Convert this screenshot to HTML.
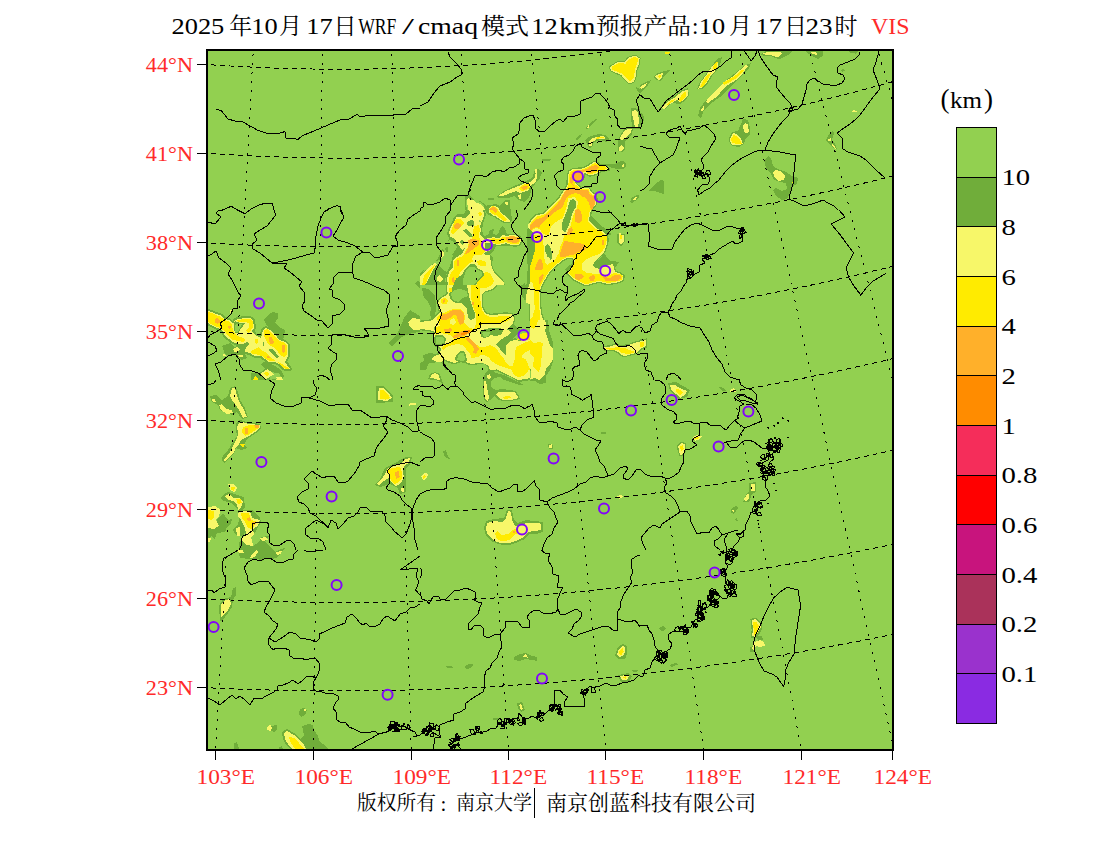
<!DOCTYPE html>
<html><head><meta charset="utf-8"><title>VIS</title>
<style>
html,body{margin:0;padding:0;background:#fff;overflow:hidden}
svg{display:block}
text{font-family:"Liberation Serif",serif}
text.cjk{font-family:"Liberation Serif","Noto Serif CJK SC",serif}
</style></head><body>
<svg width="1100" height="850" viewBox="0 0 1100 850">
<defs><clipPath id="mc"><rect x="207" y="50" width="686" height="700"/></clipPath></defs>
<rect x="0" y="0" width="1100" height="850" fill="#fff"/>
<rect x="207" y="50" width="686" height="700" fill="#92d050"/>
<g clip-path="url(#mc)">
<g shape-rendering="crispEdges">
<path fill="#70ad3a" stroke="#70ad3a" stroke-width="2.4" stroke-linejoin="round" d="M567.5 183.0L568.0 176.0L569.0 171.5L573.0 169.0L582.0 168.5L587.0 166.5L594.0 162.0L597.5 162.8L600.0 165.0L604.5 164.8L609.0 169.5L600.0 171.5L596.0 174.0L590.0 175.5L586.5 174.0L586.0 172.5L584.0 173.0L583.5 177.0L582.0 180.0L579.0 182.0L575.0 182.0L576.0 184.0L579.0 186.5L581.0 188.0L586.0 187.5L589.0 188.5L591.0 192.0L594.0 194.0L596.0 195.0L596.5 200.0L596.0 204.0L593.0 208.0L591.0 210.0L590.0 215.0L589.0 220.0L592.0 224.0L598.0 229.0L604.0 232.0L606.0 235.0L530.0 235.0L530.0 223.0L532.0 219.0L536.0 215.0L543.0 214.0L548.0 210.0L551.0 206.0L556.0 202.0L560.0 197.0L563.0 192.0L566.0 188.0L567.5 185.0Z"/>
<path fill="#70ad3a" stroke="#70ad3a" stroke-width="2.6" stroke-linejoin="round" d="M530.0 235.0L607.0 235.0L607.5 241.0L606.0 247.0L604.0 252.0L600.0 256.0L596.0 260.0L593.0 265.0L595.0 268.0L600.0 269.0L602.0 266.0L609.0 265.0L613.0 264.0L614.0 268.0L615.0 272.0L620.0 273.5L623.5 276.0L623.0 280.0L619.0 282.0L614.0 283.0L608.0 284.0L603.0 283.0L599.0 281.5L594.0 283.0L589.0 284.5L584.0 284.5L579.0 282.0L573.0 279.0L569.0 275.0L567.0 273.0L571.0 268.0L573.0 264.0L574.0 260.0L572.0 258.0L568.0 257.5L563.0 260.0L558.0 264.0L553.0 268.0L549.0 273.0L546.0 278.0L543.0 283.0L541.0 287.0L540.0 291.0L539.5 297.0L540.0 305.0L541.0 313.0L543.0 320.0L530.0 320.0Z"/>
<path fill="#70ad3a" stroke="#70ad3a" stroke-width="2.4" stroke-linejoin="round" d="M618.5 235.0L624.0 235.0L624.0 241.0L621.0 244.5L618.5 242.0Z"/>
<path fill="#70ad3a" stroke="#70ad3a" stroke-width="2.6" stroke-linejoin="round" d="M420.0 322.0L428.0 321.0L433.0 320.0L437.0 315.0L440.0 312.0L439.0 307.0L438.0 303.0L440.0 299.0L445.0 296.0L448.0 294.0L447.0 289.0L447.0 285.0L496.0 285.0L494.0 288.0L490.0 290.0L485.0 291.0L482.0 294.0L481.5 300.0L482.0 307.0L485.0 313.0L490.0 315.0L498.0 314.5L505.0 313.5L510.0 314.0L513.0 315.0L514.0 319.0L513.0 323.0L510.0 327.0L507.0 329.5L511.0 332.0L509.0 335.0L505.0 337.0L502.0 339.0L498.0 342.0L496.0 345.0L500.0 349.0L504.0 354.0L506.0 355.0L505.0 346.0L510.0 342.0L515.0 339.5L520.0 341.0L530.0 337.0L530.0 370.0L490.0 370.0L488.0 365.0L484.0 362.0L478.0 363.0L472.0 364.0L467.0 363.0L464.0 359.0L460.0 361.0L454.0 363.0L448.0 361.0L444.0 359.0L440.0 360.0L435.0 360.0L431.0 359.0L434.0 356.0L440.0 354.0L441.0 349.0L438.0 346.0L435.0 345.0L434.0 337.0L435.0 332.0L430.0 330.0L420.0 329.0Z"/>
<path fill="#70ad3a" stroke="#70ad3a" stroke-width="2.4" stroke-linejoin="round" d="M604.0 347.0L610.0 346.5L615.0 345.0L620.0 346.0L628.0 345.5L634.0 343.0L640.0 341.5L640.0 350.0L636.0 353.0L630.0 354.5L625.0 356.0L621.0 355.0L618.0 352.0L614.0 350.0L609.0 350.0L605.0 350.0Z"/>
<path fill="#70ad3a" stroke="#70ad3a" stroke-width="4" stroke-linejoin="round" d="M208.0 311.0L212.0 312.0L216.0 314.0L220.0 315.0L225.0 319.0L229.0 320.0L233.0 324.0L235.0 320.0L238.0 319.0L245.0 318.0L250.0 318.0L253.0 320.0L254.0 328.0L252.0 331.0L255.0 335.0L261.0 338.0L263.0 330.0L266.0 328.0L270.0 330.0L275.0 334.0L279.0 340.0L285.0 342.0L288.0 345.0L288.0 356.0L285.0 362.0L290.0 369.0L285.0 369.0L279.0 364.0L275.0 362.0L269.0 362.0L265.0 359.0L261.0 356.0L255.0 356.0L250.0 353.0L245.0 352.0L246.0 347.0L249.0 344.0L247.0 342.0L243.0 344.0L238.0 344.0L233.0 342.0L229.0 339.0L225.0 336.0L223.0 332.0L220.0 329.0L215.0 327.0L211.0 325.0L208.0 323.0Z"/>
<path fill="#70ad3a" stroke="#70ad3a" stroke-width="2" stroke-linejoin="round" d="M609.9 67.1L618.2 61.7L624.7 62.2L628.4 57.8L634.9 55.5L639.6 58.4L638.5 64.6L636.4 70.5L635.6 77.0L633.5 82.1L629.1 83.1L625.0 79.6L621.1 74.8L615.3 72.6L610.9 70.5Z"/>
<path fill="#70ad3a" d="M631.0 108.0L640.0 109.0L640.0 129.0L633.0 129.0L631.0 120.0ZM618.0 140.0L621.0 134.0L625.0 128.0L633.0 128.0L632.0 134.0L628.0 138.0L625.0 142.0L625.0 149.0L623.0 152.0L618.0 151.0ZM585.0 128.0L590.0 123.0L596.0 119.0L597.0 120.0L591.0 125.0L587.0 129.0ZM575.0 139.0L578.0 136.0L581.6 134.4L581.0 137.0L577.0 140.0ZM585.0 140.0L588.0 137.0L594.0 135.0L600.0 134.0L606.0 135.6L609.0 139.0L607.0 142.0L600.0 140.0L594.0 142.0L592.0 147.0L589.0 148.0L587.0 144.0ZM496.0 197.0L504.0 191.0L514.0 186.0L524.0 182.0L532.0 178.0L535.0 170.0L538.0 169.0L542.0 172.0L540.0 178.0L535.0 184.0L532.0 188.0L531.0 192.0L529.0 198.0L524.0 202.0L518.0 200.0L514.0 196.0L508.0 198.0L500.0 198.0ZM542.0 159.0L550.0 159.6L549.6 161.2L542.4 160.8ZM488.0 198.0L494.0 197.6L493.6 199.6L488.4 199.6ZM465.0 196.0L470.0 195.0L474.0 200.0L480.0 201.0L486.0 205.0L488.0 210.0L465.0 210.0ZM606.0 164.0L612.0 165.0L617.0 163.0L621.0 161.0L625.0 162.0L626.0 166.0L623.0 169.0L617.0 168.0L612.0 168.0ZM630.0 202.0L632.0 198.0L637.0 195.0L639.0 197.0L635.0 200.0L632.0 203.0ZM636.0 87.0L640.0 89.0L640.0 93.0L637.0 91.0ZM698.0 116.0L700.0 108.0L706.0 100.0L716.0 90.0L724.0 82.0L734.0 74.0L744.0 66.0L751.0 63.0L749.0 68.0L742.0 76.0L734.0 83.0L726.0 92.0L720.0 97.0L710.0 104.0L704.0 110.0L701.0 118.0ZM697.0 89.0L700.0 82.0L706.0 74.0L712.0 66.0L717.0 59.0L722.0 57.0L721.0 62.0L717.0 70.0L712.0 76.0L708.0 83.0L702.0 89.0ZM660.0 108.0L666.0 100.0L674.0 96.0L682.0 90.0L688.0 88.0L689.0 95.0L685.0 101.0L680.0 104.0L672.0 103.0L665.0 109.0ZM653.0 77.0L658.0 73.0L664.0 71.0L670.0 70.0L665.0 75.0L661.0 81.0L657.0 80.0ZM640.0 85.0L648.0 81.0L651.0 80.0L647.0 87.0L642.0 91.0L640.0 93.0ZM729.0 138.0L732.0 132.0L738.0 131.0L741.0 124.0L743.0 119.0L748.0 120.0L750.0 128.0L750.0 134.0L746.0 138.0L744.0 144.0L739.0 147.0L732.0 146.0L729.6 143.0ZM764.0 160.0L768.0 156.0L771.0 158.0L773.0 166.0L778.0 169.0L786.0 172.0L792.0 176.0L798.0 178.0L797.0 184.0L792.0 187.0L790.0 194.0L787.0 199.0L782.0 200.0L776.0 196.0L773.0 190.0L776.0 188.0L782.0 191.0L787.0 189.0L786.0 183.0L780.0 182.0L774.0 180.0L771.0 174.0L766.0 168.0ZM826.0 140.0L829.0 134.0L833.0 130.0L834.0 134.0L832.0 140.0L835.0 144.0L837.0 149.0L833.0 148.0L829.0 144.0ZM760.0 55.0L766.0 51.0L792.0 51.0L788.0 55.0L780.0 59.0L776.0 58.4L772.0 56.4L765.0 56.0ZM805.0 51.0L823.0 51.0L823.0 56.0L818.0 59.0L814.0 57.0L809.0 54.0ZM848.0 51.0L859.0 51.0L856.0 53.6L850.0 53.0ZM840.0 70.0L843.0 69.0L845.0 70.4L842.0 72.0ZM649.0 191.0L655.0 184.0L661.0 180.0L664.0 181.0L663.6 194.0L660.0 193.0L655.0 191.0ZM640.0 113.0L643.0 114.0L644.4 119.0L642.0 124.0L640.0 125.0ZM251.0 373.0L269.0 372.0L270.0 380.0L251.0 380.0ZM399.0 330.0L404.0 318.0L410.0 310.0L415.0 313.0L420.0 316.0L420.0 332.0L412.0 333.0L406.0 335.0L400.0 338.0L392.0 346.0L388.0 343.0L395.0 337.0ZM415.0 283.0L418.0 281.0L420.0 282.0L420.0 289.0ZM527.0 229.0L530.4 226.0L530.4 290.0L532.0 294.0L534.0 330.0L531.0 330.0L529.0 294.0L526.4 286.0L527.6 270.0ZM640.0 339.0L647.0 338.4L647.0 348.0L640.0 350.0ZM465.5 200.0L466.0 205.0L467.0 209.0L464.0 214.0L458.0 214.0L454.0 217.0L452.0 222.0L448.0 230.0L447.0 234.0L449.0 238.0L448.0 242.0L445.0 248.0L447.0 253.0L453.0 255.0L452.0 260.0L450.0 266.0L447.0 272.0L445.0 280.0L445.0 285.0L505.0 285.0L503.0 280.0L499.0 276.0L494.0 270.0L492.0 264.0L493.0 258.0L490.0 254.0L494.0 250.0L496.0 246.0L503.0 245.5L510.0 246.0L516.0 247.0L521.0 245.0L522.5 240.0L520.0 235.0L512.0 233.5L507.0 234.0L505.0 229.0L503.0 226.0L500.0 228.0L499.0 233.0L496.0 235.0L493.0 234.0L494.0 229.0L490.0 230.0L488.0 235.0L484.0 236.0L482.0 230.0L484.0 220.0L486.0 215.0L484.0 206.0L480.0 202.0L476.0 200.0ZM484.0 206.0L490.0 205.0L496.0 204.0L500.0 206.0L503.0 202.0L505.0 200.0L510.0 200.0L510.0 206.0L511.0 212.0L512.0 220.0L510.0 223.0L504.0 223.0L499.0 220.0L494.0 217.0L489.0 215.0L486.0 213.0ZM420.0 274.0L425.0 269.0L430.0 264.0L436.0 261.0L440.0 260.0L443.0 254.0L445.0 248.0L441.5 250.0L440.0 254.0L438.0 258.0L434.0 262.0L429.0 265.0L424.0 270.0L420.0 273.0ZM420.0 274.0L426.0 270.0L433.0 264.0L438.0 264.0L443.0 270.0L447.0 272.0L445.0 285.0L420.0 285.0ZM605.0 164.0L610.0 163.5L616.0 165.0L620.0 162.0L624.0 161.0L626.0 164.0L625.0 168.0L620.0 169.5L615.0 168.5L610.0 167.0ZM535.0 172.0L537.0 169.0L542.0 173.0L539.0 177.0L536.0 180.0L532.0 181.0L530.0 181.0L530.0 179.0L534.0 177.0ZM543.0 159.2L551.0 159.0L551.0 160.4L543.0 160.6ZM631.0 198.0L634.0 196.5L639.0 195.0L638.5 198.0L635.0 201.0L631.5 203.0ZM590.0 214.0L594.0 219.0L600.0 225.0L606.0 229.0L610.0 231.0L611.0 235.0L604.0 235.0L599.0 230.0L592.0 225.0L589.0 220.0ZM592.5 266.0L595.0 262.0L600.0 259.0L604.0 253.0L606.5 257.0L610.0 261.0L620.0 261.8L617.0 265.0L614.5 268.0L612.0 264.5L609.0 265.0L602.0 265.5L600.0 269.0L595.0 268.5ZM530.0 299.0L533.0 299.0L533.0 320.0L530.0 320.0ZM565.0 270.0L568.0 266.0L572.0 264.0L570.0 268.0L567.0 271.5ZM422.0 288.0L429.0 289.0L435.0 296.0L436.5 307.0L435.0 315.0L432.0 320.0L430.0 315.0L431.0 308.0L428.0 302.0L424.0 298.0ZM423.0 355.0L430.0 353.0L436.0 354.0L440.0 355.0L434.0 357.0L431.0 359.5L435.0 361.0L443.0 361.0L446.0 365.0L447.0 370.0L420.0 370.0L420.0 363.0L424.0 361.0ZM521.0 285.0L530.0 285.0L530.0 299.0L526.0 301.0L522.0 297.0ZM483.0 380.0L485.0 373.0L490.0 369.0L496.0 373.0L502.0 374.5L510.0 376.5L517.0 381.0L523.0 384.5L520.0 385.0L516.0 384.0L510.0 382.0L504.0 380.0L500.0 377.0L494.0 378.0L491.0 382.0L491.0 387.0L496.0 390.0L502.0 389.0L510.0 390.0L516.0 391.0L519.0 396.0L520.0 399.0L516.0 400.0L510.0 401.0L502.0 401.0L497.0 399.0L494.0 396.0L490.0 400.0L487.0 402.0L484.0 400.0L482.5 392.0L483.0 385.0ZM428.0 379.0L430.0 374.0L435.0 372.0L440.0 374.0L442.0 380.0L443.0 384.0L440.0 382.0L436.0 380.0L431.0 380.0ZM421.0 366.0L425.0 363.0L429.0 366.5L425.0 370.0ZM423.0 356.0L426.0 354.0L430.0 357.0L435.0 356.0L438.0 353.0L437.0 357.0L434.0 359.0L430.0 360.0L426.0 359.0ZM545.0 320.0L548.0 320.0L549.0 330.0L553.0 342.0L553.5 350.0L553.0 362.0L550.0 370.0L546.0 376.0L545.5 383.0L540.0 384.0L535.0 381.0L530.0 380.5L530.0 320.0ZM264.0 320.0L269.0 314.0L273.0 312.0L277.5 313.5L278.0 318.0L275.0 323.0L279.0 327.0L285.0 330.0L283.0 341.0L275.0 333.0L269.0 329.0ZM222.0 346.0L230.0 343.0L235.0 347.0L247.0 342.0L249.0 344.0L245.0 348.0L245.0 354.0L247.0 358.0L241.0 360.0L235.0 354.0L230.0 356.0L225.0 354.0ZM261.0 364.0L267.0 360.0L271.0 364.0L275.0 366.0L281.0 370.0L284.0 376.0L281.0 380.0L275.0 380.0L269.0 380.0L264.0 378.0L261.0 372.0L265.0 369.0ZM262.0 373.0L267.0 368.0L271.0 370.0L275.0 374.5L272.0 377.5L266.0 376.5ZM208.0 527.0L214.0 525.0L218.0 518.0L223.0 513.0L228.0 520.0L232.0 519.0L231.0 524.0L227.0 527.0L225.0 532.0L217.0 533.0L215.0 539.0L218.0 541.0L211.0 536.0L208.0 540.0ZM233.0 530.0L238.0 524.0L240.0 518.0L245.0 522.0L246.0 530.0L243.0 536.0L238.0 536.0L235.0 534.0ZM239.0 542.0L243.0 540.0L247.0 544.0L253.0 546.0L259.0 542.0L261.0 537.0L269.0 536.0L265.0 542.0L271.0 548.0L275.0 552.0L281.0 549.0L285.0 548.0L277.0 558.0L270.0 559.0L265.0 556.0L259.0 559.0L249.0 559.0L240.0 558.0L238.5 550.0ZM220.0 498.0L224.0 495.0L225.0 498.0L222.0 500.0ZM238.0 510.0L252.0 509.5L260.0 518.0L261.0 522.0L253.0 536.0L245.0 534.0L239.0 518.0ZM493.0 369.0L500.0 372.5L510.0 378.0L518.0 382.0L526.0 381.0L532.0 379.0L532.0 369.0ZM524.0 282.0L527.5 290.0L525.7 296.5L524.5 300.0L522.0 292.0ZM210.0 396.0L216.0 395.0L222.0 400.0L228.0 396.0L230.0 388.0L235.0 386.0L238.0 392.0L240.0 400.0L245.0 408.0L248.0 417.0L242.0 419.0L237.0 412.0L233.0 415.0L226.0 413.0L220.0 410.0L218.0 405.0L212.0 402.0ZM236.0 423.0L240.0 420.0L246.0 422.0L254.0 423.0L260.0 424.0L261.0 428.0L256.0 433.0L250.0 437.0L246.0 440.0L245.0 445.0L247.0 448.0L241.0 450.0L236.0 448.0L234.0 453.0L229.0 458.0L224.0 463.0L222.0 460.0L223.0 455.0L228.0 450.0L233.0 442.0L237.0 436.0L236.0 429.0ZM220.0 498.0L224.0 494.0L228.0 492.0L244.0 497.0L245.0 508.0L240.0 512.0L236.0 508.0L232.0 503.0L224.0 501.0ZM376.0 386.0L384.0 386.0L393.0 396.0L393.0 402.0L376.0 403.0ZM374.0 485.0L380.0 479.0L385.0 468.0L393.0 464.0L406.0 457.0L412.0 457.0L410.0 465.0L406.0 468.0L406.0 480.0L406.0 492.0L400.0 494.0L398.0 488.0L390.0 484.0L380.0 487.0ZM484.0 528.0L486.0 521.0L494.0 519.0L504.0 518.0L507.0 510.0L512.0 510.0L514.0 520.0L518.0 523.0L526.0 520.0L534.0 521.0L543.0 522.0L543.0 532.0L536.0 534.0L529.0 534.0L525.0 539.0L518.0 542.0L510.0 545.0L499.0 544.4L491.0 541.0L486.0 536.0ZM548.0 444.0L552.4 443.6L553.0 449.0L549.0 449.4ZM443.0 451.0L446.0 450.0L448.0 456.0L450.0 459.0L447.0 458.4L444.0 455.0ZM601.0 432.4L606.0 432.0L606.0 434.0L601.0 434.4ZM668.0 383.0L676.0 382.0L683.0 386.0L690.0 390.0L687.0 397.0L679.0 399.0L674.0 395.0L670.0 391.0ZM719.0 387.0L724.0 388.0L726.0 391.0L722.0 391.0ZM676.6 445.6L681.0 441.6L686.4 443.0L686.4 450.0L684.0 455.6L679.6 456.4L677.6 450.4ZM749.0 483.0L756.0 482.0L756.0 492.0L752.0 494.0L749.0 502.0L743.0 502.0L746.0 495.0L749.0 491.0ZM731.0 509.0L736.0 506.0L738.0 508.0L734.0 514.0L731.0 513.0ZM735.0 519.0L737.0 518.0L738.0 521.0L736.0 521.6ZM238.0 550.0L270.0 550.0L271.0 555.0L266.0 558.0L262.0 561.0L258.0 559.0L250.0 559.0L240.0 558.0ZM219.0 606.0L223.0 599.0L231.0 597.0L233.0 588.0L236.0 587.0L236.0 595.0L233.0 600.0L232.0 607.0L228.0 613.0L223.0 620.0L220.0 621.0ZM300.0 709.0L304.0 708.0L307.0 710.0L305.0 715.0L301.0 717.0L299.0 714.0ZM514.0 657.0L520.0 654.0L526.0 653.0L532.0 656.0L537.0 657.0L537.0 661.0L532.0 660.0L526.0 659.0L519.0 661.0L514.4 660.0ZM464.0 667.0L469.0 664.0L473.0 664.4L472.0 667.0L467.0 669.6ZM446.0 666.4L452.0 666.0L453.0 667.6L447.0 668.0ZM615.0 655.0L618.0 647.0L623.0 644.0L627.0 646.0L627.0 654.0L625.0 659.0L618.0 659.0ZM618.0 675.0L628.0 673.0L632.0 676.0L629.0 682.0L621.0 682.0ZM632.0 670.0L638.0 669.6L637.0 672.4L633.0 672.4ZM517.0 703.0L522.0 702.0L525.0 710.0L521.0 712.0L518.0 709.0ZM493.0 718.0L499.0 717.6L499.0 720.0L493.0 720.0ZM750.4 619.0L756.0 617.6L762.0 623.0L762.4 628.0L760.0 633.0L757.0 638.0L751.0 637.6L751.6 630.0ZM757.0 636.0L762.0 636.0L763.0 640.0L758.0 641.0ZM750.0 647.0L754.0 646.0L754.0 652.0L750.4 651.6ZM659.0 628.0L663.0 626.0L666.0 629.0L662.0 631.6ZM669.0 665.0L676.0 663.0L678.0 664.4L672.0 667.0ZM302.0 726.0L308.0 724.0L313.0 725.0L314.0 730.0L318.0 736.0L320.0 742.0L326.0 746.0L328.0 749.0L306.0 749.0L304.0 744.0L300.0 739.0L304.0 736.0L303.0 730.0ZM282.0 732.0L287.0 729.0L295.0 733.6L301.0 739.0L305.0 744.0L308.0 749.0L290.0 749.0L286.0 744.4L283.0 739.0ZM271.0 726.0L277.0 725.0L277.0 729.0L274.0 732.0L271.0 731.0ZM234.0 743.0L237.0 742.0L239.0 749.0L234.0 749.0ZM279.0 747.0L282.0 746.0L283.0 749.0L279.0 749.0Z"/>
<path fill="#92d050" d="M269.0 372.0L279.0 373.0L282.0 379.0L270.0 379.6ZM444.0 244.0L450.0 240.0L454.0 242.0L457.0 247.0L453.0 254.0L447.0 254.0L443.0 250.0ZM429.0 363.0L440.0 362.0L444.0 366.0L445.0 370.0L426.0 370.0Z"/>
<path fill="#70ad3a" d="M445.0 248.0L447.5 247.0L448.5 251.0L446.0 252.5Z"/>
<path fill="#f7f769" d="M632.0 111.0L635.0 110.0L638.0 113.0L639.0 120.0L638.0 127.6L635.0 128.0L634.0 122.0L632.4 116.0ZM620.0 138.0L623.0 133.0L626.0 129.6L631.6 129.0L631.0 132.4L628.0 136.0L624.0 139.4L621.0 140.0ZM619.0 147.0L622.0 145.0L624.0 148.0L622.0 151.0L619.0 150.0ZM587.2 127.6L588.4 125.2L589.6 125.6L588.4 128.0ZM588.6 142.0L591.0 139.0L596.0 137.0L603.0 136.0L606.0 138.0L603.0 139.0L597.0 139.0L592.4 142.0L591.6 146.0L589.6 146.0ZM498.0 196.0L506.0 191.0L516.0 187.0L524.0 183.6L530.0 182.4L535.0 178.0L536.0 171.0L537.0 170.0L537.0 178.0L535.0 183.0L530.0 186.0L529.0 190.0L524.0 192.0L520.0 193.0L516.0 191.0L510.0 193.0L504.0 195.6ZM518.0 195.0L521.0 194.4L521.6 198.4L519.0 199.0ZM467.0 199.0L469.0 198.0L471.0 202.0L475.0 205.0L480.0 204.0L484.0 207.0L485.0 210.0L468.0 210.0ZM622.0 165.0L623.6 164.4L624.0 166.4L622.4 166.8ZM632.4 200.0L635.0 197.6L637.0 197.0L634.4 200.0ZM706.0 102.0L709.0 97.0L716.0 90.0L724.0 82.0L732.0 77.0L740.0 70.0L746.0 65.0L748.0 66.0L743.0 73.0L736.0 80.0L728.0 85.0L722.0 90.0L718.0 96.0L712.0 100.0L708.0 103.0ZM701.0 110.0L703.6 106.0L704.4 108.0L702.4 111.6ZM698.4 88.6L701.0 82.0L707.0 74.0L713.0 65.0L717.0 61.0L718.4 65.0L715.0 71.0L710.0 77.0L706.0 84.0L701.0 88.0ZM661.6 108.0L667.0 102.0L674.0 98.0L683.0 91.0L687.6 90.0L687.6 95.6L684.0 100.0L680.0 102.4L677.0 100.0L670.0 104.0L664.0 109.0ZM655.0 76.0L659.0 74.0L663.0 73.0L662.0 77.0L659.0 80.0L656.4 78.4ZM640.0 87.0L643.0 85.0L647.0 83.0L645.0 86.4L641.0 89.6ZM730.0 139.0L733.0 133.0L737.0 134.0L741.0 139.0L743.0 144.0L738.0 145.0L731.0 144.4ZM743.0 125.0L745.0 123.0L747.6 124.0L749.0 131.0L747.0 133.6L744.0 132.0ZM773.0 172.0L776.0 170.0L782.0 172.0L785.0 176.0L784.0 180.0L778.0 181.0L775.0 178.0ZM828.0 139.0L831.0 138.0L831.0 141.0L828.6 141.6ZM832.0 144.0L835.0 146.0L836.0 149.0L833.0 147.0ZM851.0 111.0L854.0 110.0L857.0 111.4L854.0 112.6ZM762.0 54.0L768.0 51.6L780.0 51.6L782.0 54.0L778.0 57.6L773.0 55.6L768.0 55.0ZM809.0 51.6L816.0 51.6L817.0 55.0L814.0 54.4ZM260.0 374.0L266.0 370.0L271.0 373.0L270.0 377.0L266.0 379.0L262.0 377.0ZM277.0 377.6L282.0 378.0L283.0 380.0L276.0 380.0ZM408.0 322.0L412.0 318.0L420.0 319.0L420.0 330.0L414.0 330.0L410.0 327.0ZM640.0 341.0L646.0 340.0L646.0 346.0L640.0 349.0ZM467.5 200.0L473.0 200.0L476.0 203.0L481.0 204.0L482.5 207.0L484.0 215.0L482.5 220.0L480.0 226.0L481.0 230.0L480.0 235.0L484.0 239.0L490.0 238.0L493.0 237.0L499.0 238.5L503.0 235.0L507.0 236.0L512.0 235.0L519.0 236.0L521.0 240.0L520.0 244.0L516.0 245.5L510.0 244.5L506.0 243.0L503.0 244.0L498.0 245.0L493.0 244.0L492.0 248.0L489.0 251.0L485.0 252.0L484.0 254.0L489.0 256.0L490.5 260.0L490.0 265.0L492.0 270.0L496.0 276.0L500.0 280.0L503.0 285.0L476.0 285.0L480.0 280.0L484.0 274.0L482.0 270.0L478.0 268.0L474.0 264.0L470.0 264.0L466.0 268.0L463.0 273.0L461.0 279.0L460.0 285.0L448.0 285.0L447.0 279.0L449.0 272.0L453.0 267.0L453.0 260.0L457.0 257.0L462.0 254.0L464.0 250.0L466.0 245.0L467.0 241.0L464.0 237.0L462.0 233.0L458.0 235.0L454.0 237.0L450.0 236.5L449.0 232.0L451.0 227.0L454.0 222.0L456.0 217.5L460.0 216.5L464.0 218.5L467.0 217.0L470.0 213.0L469.0 209.0L467.0 204.0ZM489.0 209.0L491.0 206.5L494.0 205.5L498.0 207.5L500.0 211.5L504.0 215.0L509.0 219.0L510.0 221.5L505.0 222.0L500.0 219.5L496.0 216.5L492.0 215.0L489.5 212.5ZM505.0 202.0L508.0 202.0L508.0 205.0L506.0 205.0ZM528.0 224.0L530.0 223.0L530.0 229.0L528.5 228.0ZM420.0 276.0L424.0 272.0L429.0 267.0L435.0 263.0L437.0 264.0L433.0 270.0L430.0 276.0L427.0 282.0L425.0 285.0L420.0 285.0ZM437.0 277.0L440.0 275.0L443.0 279.0L440.0 282.0L437.5 281.0ZM441.0 251.0L444.0 252.0L443.5 256.0L441.5 258.0ZM567.5 183.0L568.0 176.0L569.0 171.5L573.0 169.0L582.0 168.5L587.0 166.5L594.0 162.0L597.5 162.8L600.0 165.0L604.5 164.8L609.0 169.5L600.0 171.5L596.0 174.0L590.0 175.5L586.5 174.0L586.0 172.5L584.0 173.0L583.5 177.0L582.0 180.0L579.0 182.0L575.0 182.0L576.0 184.0L579.0 186.5L581.0 188.0L586.0 187.5L589.0 188.5L591.0 192.0L594.0 194.0L596.0 195.0L596.5 200.0L596.0 204.0L593.0 208.0L591.0 210.0L590.0 215.0L589.0 220.0L592.0 224.0L598.0 229.0L604.0 232.0L606.0 235.0L530.0 235.0L530.0 223.0L532.0 219.0L536.0 215.0L543.0 214.0L548.0 210.0L551.0 206.0L556.0 202.0L560.0 197.0L563.0 192.0L566.0 188.0L567.5 185.0ZM622.8 164.8L624.2 164.8L624.2 166.2L622.8 166.2ZM530.0 182.0L534.0 179.0L536.0 178.0L535.0 182.0L532.0 184.5L530.0 185.5ZM534.5 169.5L536.5 169.0L536.5 172.5L535.0 173.0ZM634.0 198.3L635.5 198.3L635.5 199.7L634.0 199.7ZM618.5 233.0L620.5 232.5L621.5 235.0L618.5 235.0ZM619.0 150.0L622.0 150.0L622.0 151.0L619.0 151.0ZM530.0 235.0L607.0 235.0L607.5 241.0L606.0 247.0L604.0 252.0L600.0 256.0L596.0 260.0L593.0 265.0L595.0 268.0L600.0 269.0L602.0 266.0L609.0 265.0L613.0 264.0L614.0 268.0L615.0 272.0L620.0 273.5L623.5 276.0L623.0 280.0L619.0 282.0L614.0 283.0L608.0 284.0L603.0 283.0L599.0 281.5L594.0 283.0L589.0 284.5L584.0 284.5L579.0 282.0L573.0 279.0L569.0 275.0L567.0 273.0L571.0 268.0L573.0 264.0L574.0 260.0L572.0 258.0L568.0 257.5L563.0 260.0L558.0 264.0L553.0 268.0L549.0 273.0L546.0 278.0L543.0 283.0L541.0 287.0L540.0 291.0L539.5 297.0L540.0 305.0L541.0 313.0L543.0 320.0L530.0 320.0ZM618.5 235.0L624.0 235.0L624.0 241.0L621.0 244.5L618.5 242.0ZM420.0 322.0L428.0 321.0L433.0 320.0L437.0 315.0L440.0 312.0L439.0 307.0L438.0 303.0L440.0 299.0L445.0 296.0L448.0 294.0L447.0 289.0L447.0 285.0L496.0 285.0L494.0 288.0L490.0 290.0L485.0 291.0L482.0 294.0L481.5 300.0L482.0 307.0L485.0 313.0L490.0 315.0L498.0 314.5L505.0 313.5L510.0 314.0L513.0 315.0L514.0 319.0L513.0 323.0L510.0 327.0L507.0 329.5L511.0 332.0L509.0 335.0L505.0 337.0L502.0 339.0L498.0 342.0L496.0 345.0L500.0 349.0L504.0 354.0L506.0 355.0L505.0 346.0L510.0 342.0L515.0 339.5L520.0 341.0L530.0 337.0L530.0 370.0L490.0 370.0L488.0 365.0L484.0 362.0L478.0 363.0L472.0 364.0L467.0 363.0L464.0 359.0L460.0 361.0L454.0 363.0L448.0 361.0L444.0 359.0L440.0 360.0L435.0 360.0L431.0 359.0L434.0 356.0L440.0 354.0L441.0 349.0L438.0 346.0L435.0 345.0L434.0 337.0L435.0 332.0L430.0 330.0L420.0 329.0ZM526.0 295.0L530.0 294.0L530.0 302.0L527.5 301.0ZM496.0 394.0L500.0 391.5L508.0 392.0L515.0 392.5L518.0 397.0L516.0 399.0L510.0 400.0L503.0 400.0L499.0 398.0ZM484.0 381.0L486.0 381.0L487.0 387.0L489.0 398.0L488.0 401.0L485.0 399.0L483.5 392.0L484.0 386.0ZM487.0 375.0L490.0 374.0L491.0 377.0L489.0 379.0L487.0 378.0ZM430.0 378.0L432.0 374.0L435.0 373.0L439.0 375.0L440.0 380.0L437.0 379.5L434.0 378.5ZM431.0 359.0L435.0 357.0L441.5 358.0L443.0 360.0L442.0 362.0L436.0 361.5ZM530.0 320.0L545.0 320.0L546.5 326.0L545.0 330.0L546.5 335.0L548.0 340.0L550.0 345.0L553.0 349.0L552.5 360.0L550.0 364.0L546.0 368.0L545.0 374.0L542.0 378.0L539.0 380.0L535.0 378.0L530.0 379.0ZM604.0 347.0L610.0 346.5L615.0 345.0L620.0 346.0L628.0 345.5L634.0 343.0L640.0 341.5L640.0 350.0L636.0 353.0L630.0 354.5L625.0 356.0L621.0 355.0L618.0 352.0L614.0 350.0L609.0 350.0L605.0 350.0ZM208.0 311.0L212.0 312.0L216.0 314.0L220.0 315.0L225.0 319.0L229.0 320.0L233.0 324.0L235.0 320.0L238.0 319.0L245.0 318.0L250.0 318.0L253.0 320.0L254.0 328.0L252.0 331.0L255.0 335.0L261.0 338.0L263.0 330.0L266.0 328.0L270.0 330.0L275.0 334.0L279.0 340.0L285.0 342.0L288.0 345.0L288.0 356.0L285.0 362.0L290.0 369.0L285.0 369.0L279.0 364.0L275.0 362.0L269.0 362.0L265.0 359.0L261.0 356.0L255.0 356.0L250.0 353.0L245.0 352.0L246.0 347.0L249.0 344.0L247.0 342.0L243.0 344.0L238.0 344.0L233.0 342.0L229.0 339.0L225.0 336.0L223.0 332.0L220.0 329.0L215.0 327.0L211.0 325.0L208.0 323.0ZM233.0 349.0L237.0 347.0L240.0 349.0L237.0 352.0L234.0 351.5ZM223.0 354.5L225.0 354.0L226.0 355.5L223.5 356.0ZM238.0 354.5L243.0 354.8L243.0 356.5L238.5 356.5ZM264.0 372.0L267.0 369.0L270.0 371.0L274.0 374.5L271.0 376.0L267.0 375.0ZM276.0 377.5L282.0 377.0L282.5 379.0L277.0 379.5ZM230.0 310.0L232.0 310.5L232.0 313.0L230.0 313.0ZM609.9 67.1L618.2 61.7L624.7 62.2L628.4 57.8L634.9 55.5L639.6 58.4L638.5 64.6L636.4 70.5L635.6 77.0L633.5 82.1L629.1 83.1L625.0 79.6L621.1 74.8L615.3 72.6L610.9 70.5ZM495.0 369.0L500.0 371.0L510.0 376.0L518.0 380.0L526.0 379.0L531.0 377.5L531.0 369.0ZM212.0 399.0L215.0 399.0L216.0 402.0L213.0 402.4ZM219.0 405.0L222.0 404.0L226.0 409.0L232.0 410.0L233.0 413.0L227.0 414.0L221.0 410.0ZM230.0 396.0L232.0 388.0L235.0 388.0L237.0 396.0L240.0 403.0L244.0 410.0L247.0 417.0L243.0 417.6L239.0 410.0L235.0 404.0L232.0 400.0ZM238.0 424.0L241.0 421.6L247.0 423.6L254.0 424.4L259.6 425.0L260.0 428.0L255.0 432.0L249.0 436.0L245.0 438.0L241.0 440.0L239.0 444.0L236.0 447.0L234.0 452.0L230.0 456.0L225.0 461.6L224.0 460.0L230.0 452.0L233.0 446.0L236.0 440.0L238.4 434.0L237.0 428.0ZM228.0 484.0L233.0 484.0L237.0 488.0L235.0 492.0L231.0 491.0ZM225.0 496.0L229.0 494.0L234.0 498.0L240.0 498.0L243.0 502.0L241.0 508.0L238.0 510.0L237.0 504.0L233.0 501.0L228.0 500.0ZM208.0 507.0L215.0 506.0L221.0 510.0L219.0 516.0L216.0 520.0L219.0 526.0L214.0 529.0L208.0 528.0ZM208.0 538.0L211.0 538.0L210.0 542.0L208.0 542.4ZM239.0 511.0L250.0 511.0L252.0 518.0L260.0 520.0L258.0 526.0L253.0 529.0L254.0 534.0L250.0 538.0L246.0 534.0L245.0 528.0L241.0 520.0L238.0 516.0ZM241.0 538.0L247.0 535.0L252.0 540.0L253.0 546.0L247.0 545.0L243.0 542.0ZM260.0 538.0L266.0 537.0L268.0 540.0L262.0 541.0ZM236.0 528.0L240.0 527.0L240.0 536.0L237.0 536.0ZM379.0 388.0L383.0 388.0L389.0 393.0L392.0 398.0L387.0 401.0L378.0 400.0L378.0 394.0ZM409.0 403.6L416.0 403.0L416.0 405.0L409.0 405.6ZM376.0 484.0L381.0 480.0L385.0 474.0L388.0 468.0L394.0 466.0L400.0 464.0L406.0 459.0L410.0 458.0L409.0 463.0L404.0 466.0L403.0 472.0L404.0 478.0L400.0 484.0L396.0 486.0L392.0 483.0L389.0 478.0L384.0 481.0L379.0 485.0ZM401.0 488.0L404.4 487.0L404.0 492.0L401.6 492.0ZM487.0 523.0L494.0 521.0L502.0 522.0L506.0 518.0L508.0 511.0L511.0 512.0L512.0 520.0L515.0 526.0L520.0 525.0L526.0 523.0L532.0 523.0L541.0 523.6L541.0 530.0L534.0 531.0L528.0 532.0L524.0 537.0L518.0 540.0L510.0 543.0L500.0 543.0L493.0 540.0L488.0 535.0L486.0 529.0ZM421.0 476.0L425.0 473.0L428.0 474.0L427.0 478.0L423.0 480.6ZM617.0 496.0L621.0 495.0L623.0 497.0L619.0 499.0ZM549.0 445.0L551.6 444.4L552.0 448.0L549.6 448.4ZM670.0 385.0L675.0 385.0L680.0 388.0L687.0 391.0L685.0 395.0L680.0 398.0L676.0 394.0L672.0 391.0ZM731.0 389.0L734.0 388.0L736.0 391.6L730.0 392.0ZM692.0 438.0L697.0 435.0L702.0 436.0L700.0 439.0L695.0 441.0ZM678.0 446.0L681.0 443.0L685.0 444.0L685.0 449.0L683.0 454.0L680.0 455.0L679.0 450.0ZM751.0 484.0L755.0 483.6L755.0 491.0L751.0 491.0ZM744.0 499.0L748.0 493.0L749.6 496.0L748.0 500.0L745.0 501.0ZM732.0 510.0L734.0 510.0L733.6 512.0ZM238.0 550.0L243.0 550.0L244.0 553.0L239.0 553.0ZM250.0 558.0L253.0 553.0L256.0 550.0L258.0 552.0L255.0 557.0ZM276.0 552.0L282.0 551.0L281.0 554.0L277.0 555.0ZM221.0 605.0L225.0 600.0L230.0 599.0L231.0 604.0L228.0 610.0L224.0 615.0L221.0 617.0ZM304.4 709.0L306.0 709.0L306.0 710.6L304.4 710.6ZM523.0 657.0L525.6 654.0L528.0 657.6ZM617.0 654.0L619.0 649.0L622.0 646.0L625.0 647.0L625.0 652.0L623.0 656.0L619.0 657.0ZM620.0 676.0L625.0 675.0L629.0 676.4L627.0 680.0L622.0 680.4ZM519.0 705.0L521.0 704.0L523.0 709.0L521.0 710.0ZM752.0 620.0L755.0 619.0L760.0 623.0L761.0 627.0L758.0 632.0L755.0 637.0L752.0 636.0L753.0 630.0ZM754.0 642.0L760.0 640.0L764.0 642.0L765.0 646.0L760.0 647.0L756.0 646.0L754.0 650.0L752.0 649.0ZM284.0 733.0L287.0 731.0L294.0 735.0L300.0 740.0L304.0 745.0L306.0 749.0L292.0 749.0L288.0 744.0L285.0 739.0ZM267.0 727.0L270.0 724.4L272.0 728.0L270.4 731.0L267.6 730.0Z"/>
<path fill="#f7f769" d="M450.0 233.0L462.0 233.0L467.0 240.0L468.0 244.0L465.0 247.0L462.0 250.0L458.0 244.0L454.0 238.0L450.0 237.0ZM530.5 281.0L527.5 290.0L525.7 296.5L526.3 303.0L531.0 304.5Z"/>
<path fill="#70ad3a" d="M453.0 285.0L467.0 285.0L468.0 290.0L469.0 296.0L471.0 302.0L472.5 307.0L474.5 312.0L475.0 318.0L471.0 320.0L468.0 318.0L467.0 309.0L464.0 305.0L460.0 302.5L456.0 303.0L452.0 301.0L450.0 298.0L449.0 294.0L452.0 290.0ZM480.0 331.0L484.0 329.5L490.0 328.0L500.0 328.0L503.0 330.0L502.0 334.0L496.0 336.0L490.0 335.0L488.0 337.0L484.0 338.0L481.0 336.5ZM434.0 327.0L440.0 326.5L441.0 330.0L440.0 332.0L435.0 332.0ZM234.0 324.0L235.0 321.0L239.0 322.5L245.0 323.0L243.0 326.0L240.0 330.0L239.0 333.0L235.0 333.0L234.0 329.0Z"/>
<path fill="#92d050" d="M451.0 294.0L454.0 290.0L460.0 289.0L467.0 291.0L468.0 296.0L463.0 298.0L458.0 302.0L453.0 300.0ZM482.0 333.0L486.0 331.5L490.0 332.0L489.0 336.0L484.0 337.0ZM235.0 325.0L238.0 323.5L242.0 324.5L239.5 328.5L238.0 331.5L235.5 331.5Z"/>
<path fill="#ffeb00" d="M595.0 138.0L600.0 136.6L604.0 137.4L600.0 138.4L596.0 139.0ZM519.0 188.0L524.0 184.4L529.0 184.0L529.6 188.0L525.0 190.4L521.0 191.0ZM722.0 83.0L728.0 80.0L736.0 75.0L742.0 70.0L744.0 70.0L738.0 77.0L730.0 82.0L724.0 85.0ZM700.0 87.0L703.0 81.0L708.0 74.0L711.0 73.0L707.0 81.0L703.0 87.0ZM712.4 68.0L715.0 63.0L717.6 62.0L717.0 67.0L714.0 70.0ZM679.0 100.0L682.0 94.0L686.4 91.0L686.4 96.0L683.0 100.0L680.0 102.0ZM666.0 105.0L670.0 101.0L675.0 99.0L672.0 102.0L668.0 105.0ZM657.6 76.0L661.6 74.0L660.0 78.4ZM664.0 51.6L670.0 51.6L669.0 53.6L665.6 54.4ZM731.0 139.0L733.6 135.0L737.0 136.0L740.0 140.0L741.6 143.6L737.0 144.0L732.0 143.0ZM792.4 182.4L793.6 182.0L794.0 184.0L792.8 184.4ZM264.0 373.0L267.0 371.6L269.0 374.0L267.0 377.0ZM252.4 380.0L255.6 376.4L258.4 380.0ZM640.0 342.4L644.0 342.0L644.0 346.0L640.0 347.6ZM424.0 276.0L428.0 271.0L433.0 266.0L435.0 265.0L431.0 272.0L428.0 278.0L426.0 283.0L424.0 285.0L422.0 285.0ZM455.0 220.0L458.0 218.5L462.0 220.0L464.0 223.0L462.0 226.0L458.0 229.0L455.0 233.0L452.0 234.0L451.0 231.0L453.0 226.0ZM478.0 213.0L480.0 211.0L482.0 214.0L480.0 217.0ZM474.0 226.0L479.0 225.0L480.0 230.0L479.0 235.0L480.0 240.0L482.0 242.0L484.0 248.0L485.0 251.0L480.0 256.0L476.0 260.0L472.0 262.0L468.0 264.0L464.0 268.0L460.0 273.0L458.0 279.0L455.0 285.0L449.0 285.0L449.0 279.0L451.0 273.0L454.0 269.0L454.0 261.0L458.0 258.0L463.0 256.0L465.0 252.0L468.0 247.0L469.0 242.0L472.0 239.0L473.0 233.0ZM478.0 264.0L482.0 261.0L486.0 260.0L489.0 262.0L489.0 266.0L491.0 272.0L494.0 278.0L496.0 285.0L480.0 285.0L483.0 280.0L486.0 274.0L484.0 269.0L480.0 267.0ZM490.0 239.0L493.0 238.0L499.0 239.5L504.0 236.5L507.0 237.0L512.0 236.0L518.5 237.0L520.0 240.0L519.0 243.5L515.0 244.5L510.0 243.5L506.0 242.0L502.0 243.0L497.0 244.0L493.0 243.0ZM490.0 208.0L493.0 206.0L497.0 208.0L499.0 212.0L503.0 216.0L508.0 220.0L504.0 221.0L500.0 218.0L496.0 215.0L492.0 214.0L489.5 211.0ZM568.5 183.0L569.0 176.0L570.0 172.0L574.0 170.0L582.0 169.5L587.5 167.5L594.0 163.2L597.0 163.8L599.0 166.0L604.0 165.8L607.0 169.0L600.0 170.5L595.0 173.0L590.0 174.5L587.5 173.8L587.0 171.5L583.0 172.5L582.5 177.0L581.0 179.5L578.0 181.2L574.0 181.2L575.5 184.5L580.0 188.5L586.0 188.5L588.5 189.5L590.0 193.0L592.0 195.0L595.0 196.0L595.5 200.0L595.0 204.0L592.0 208.0L590.0 210.0L589.0 215.0L587.5 220.0L590.0 224.0L596.0 229.0L602.0 232.0L604.0 235.0L546.0 235.0L542.0 233.0L540.0 229.0L536.0 228.0L532.0 230.0L530.0 232.0L530.0 224.5L533.0 220.0L537.0 216.5L543.5 215.0L549.0 211.0L552.0 207.0L557.0 203.0L561.0 198.0L564.0 193.0L567.0 188.5ZM530.0 235.0L543.0 235.0L543.5 245.0L544.0 255.0L545.0 262.0L547.0 265.0L552.0 262.0L556.0 258.0L559.0 253.0L560.0 247.0L563.0 241.0L564.0 235.0L606.5 235.0L606.5 241.0L605.0 247.0L602.0 252.0L598.0 254.5L592.0 256.5L586.0 259.5L582.0 263.5L581.5 269.0L586.0 272.5L592.0 273.5L598.0 274.5L603.0 274.0L606.0 277.0L614.0 273.0L620.0 274.0L622.5 276.5L622.0 279.5L618.0 281.2L613.0 282.0L608.0 283.0L603.0 282.0L599.0 280.5L594.0 282.0L589.0 283.5L584.0 283.5L579.5 281.2L574.0 278.2L570.0 274.5L568.5 272.8L572.0 268.5L574.0 264.0L575.0 260.0L572.5 257.2L568.0 256.5L563.0 259.0L558.0 263.0L553.0 267.0L548.5 272.0L545.5 277.0L542.5 282.0L540.5 286.5L539.2 291.0L538.8 297.0L539.0 305.0L539.5 313.0L540.0 320.0L535.0 320.0L534.5 305.0L534.0 291.0L533.0 283.0L530.0 282.0ZM620.0 235.0L621.5 235.0L621.5 239.0L620.0 239.0ZM470.5 285.0L480.0 285.0L480.5 291.0L480.0 297.0L481.0 305.0L482.5 311.0L485.5 315.0L490.0 317.0L498.0 316.5L505.0 315.5L510.0 316.0L510.5 319.5L506.0 321.5L500.0 323.5L490.0 324.5L482.0 324.0L480.0 328.0L474.0 329.5L475.5 325.0L476.5 319.0L475.5 313.0L473.0 307.0L471.5 300.0L470.8 293.0ZM437.0 318.0L440.0 314.0L446.0 312.0L453.0 309.0L460.0 309.0L464.0 312.0L465.0 318.0L464.0 323.0L468.0 327.0L474.0 329.5L470.0 332.0L464.0 335.0L468.0 339.0L474.0 343.0L480.0 347.0L484.0 347.0L490.0 345.0L494.0 347.0L498.0 351.0L502.0 357.0L507.0 362.0L512.0 363.0L515.0 359.0L514.5 353.0L516.0 347.0L520.0 345.0L526.0 342.0L530.0 341.0L530.0 370.0L498.0 370.0L496.0 367.0L492.0 364.0L490.0 358.0L484.0 355.0L480.0 355.0L476.0 361.0L472.0 359.0L470.0 354.0L466.0 349.0L463.0 345.0L457.0 344.0L452.0 345.0L447.0 347.0L443.0 350.0L441.5 348.0L446.0 344.0L452.0 341.0L454.0 338.0L450.0 335.0L445.0 334.0L440.0 333.0L436.0 335.0L435.0 332.0L436.0 327.0L440.0 326.0L438.0 322.0ZM440.5 299.5L445.0 297.5L448.0 300.0L447.0 303.5L443.0 304.0L440.5 302.5ZM449.0 288.0L452.0 288.0L451.5 292.0L449.0 292.5ZM502.0 397.0L507.0 396.0L512.0 397.0L508.0 398.5L504.0 398.5ZM606.0 348.5L613.0 348.0L617.0 347.0L620.0 347.5L626.0 348.5L632.0 351.0L635.0 352.0L631.0 353.5L625.0 353.5L621.0 352.5L618.0 350.0L614.0 349.5L609.0 349.5ZM208.0 312.0L212.0 313.0L216.0 315.0L220.0 316.5L225.0 320.0L229.0 321.5L232.0 325.0L233.0 330.0L235.0 334.0L238.0 336.0L243.0 338.0L245.0 340.0L243.0 342.0L238.0 341.0L233.0 340.0L229.0 337.0L226.0 333.0L223.0 330.0L220.0 328.0L215.0 326.0L211.0 324.0L208.0 322.0ZM237.0 320.0L245.0 319.0L250.0 319.0L252.5 321.5L253.0 327.0L251.0 330.0L248.0 333.0L246.0 330.0L249.0 327.0L249.0 323.0L245.0 322.0L239.0 322.5ZM264.0 330.0L267.0 329.0L270.0 332.0L275.0 336.0L279.0 341.0L285.0 343.0L287.0 346.0L287.0 355.0L284.0 357.0L279.0 354.0L277.0 350.0L273.0 347.0L270.0 346.0L267.0 342.0L265.0 338.0L263.5 334.0ZM250.0 352.0L255.0 349.0L259.0 347.0L261.0 350.0L265.0 352.0L269.0 356.0L273.0 359.0L275.0 361.0L270.0 361.0L266.0 359.0L262.0 356.0L257.0 354.5L253.0 354.0ZM278.0 362.0L282.0 364.0L287.0 367.0L289.5 368.8L285.0 368.5L281.0 366.0ZM255.0 339.0L258.0 339.0L258.0 343.0L256.0 344.0L255.0 342.0ZM254.0 377.5L256.0 376.5L258.5 379.0L254.5 379.0ZM611.6 66.8L618.9 63.2L625.5 63.6L629.1 59.3L634.9 56.9L638.1 58.8L637.1 63.9L634.9 69.7L634.2 76.3L632.3 79.9L629.1 81.1L626.2 78.2L621.8 73.4L616.0 71.2L612.4 69.7ZM512.0 369.5L513.0 374.0L518.0 377.0L524.0 376.0L527.5 372.0L528.5 369.5ZM530.0 340.0L534.0 343.0L539.0 342.0L543.0 343.0L542.0 350.0L541.0 366.0L539.0 372.0L536.0 370.0L533.0 366.0L534.0 358.0L530.0 353.0ZM534.0 310.0L540.0 310.0L539.0 318.0L537.0 324.0L534.0 329.0L530.0 327.0L530.0 320.0L533.0 316.0ZM517.0 340.0L520.0 334.0L526.0 332.5L530.0 334.5L530.0 340.0ZM243.0 427.0L250.0 425.0L257.0 425.0L259.0 427.6L254.0 431.0L249.0 434.4L245.0 436.0L242.0 432.0ZM240.0 444.0L245.0 444.4L243.0 448.0ZM231.0 487.0L235.0 487.0L234.0 491.0L231.6 490.0ZM236.0 499.0L241.0 499.0L241.6 503.0L238.0 504.0ZM208.0 510.0L214.0 511.0L214.0 518.0L211.0 520.0L208.0 519.0ZM241.0 513.0L249.0 513.0L251.0 520.0L257.0 522.0L254.0 526.0L251.0 529.0L248.0 528.0L245.0 522.0L242.0 518.0ZM380.0 390.0L383.0 389.6L388.0 394.0L390.0 398.0L386.0 399.6L380.0 399.0ZM387.0 471.0L392.0 468.0L400.0 467.0L402.0 472.0L402.0 478.0L398.0 483.0L394.0 484.0L391.0 480.0L389.0 474.0ZM495.0 533.0L497.0 531.0L502.0 535.0L508.0 534.0L513.0 530.0L517.0 528.0L518.0 533.0L513.0 536.0L509.0 540.0L502.0 541.6L497.0 539.0ZM422.4 477.0L425.0 475.0L426.0 477.0L423.6 479.0ZM675.6 389.0L680.0 389.6L683.0 392.0L680.0 395.6L677.0 393.0ZM694.0 437.6L699.0 436.4L698.0 439.0L695.0 439.6ZM680.0 446.0L683.0 445.0L683.6 449.0L681.0 451.0ZM618.4 654.0L620.0 650.0L622.4 648.0L623.6 651.6L621.6 655.0ZM622.0 677.0L626.0 676.4L625.6 679.0ZM753.0 622.0L756.0 621.6L759.0 626.0L757.0 632.0L754.4 635.0L753.6 629.0ZM289.0 737.0L294.0 738.0L299.0 743.0L302.0 747.0L304.0 749.0L295.0 749.0L291.0 743.0Z"/>
<path fill="#f7f769" d="M568.5 198.0L575.0 197.0L578.0 202.0L577.0 208.0L574.0 214.0L572.0 220.0L570.0 228.0L566.0 235.0L549.0 235.0L550.0 229.0L553.0 224.0L559.0 220.0L563.0 218.0L566.0 209.0L567.5 202.0ZM503.0 343.0L510.0 343.0L515.0 345.0L514.0 353.0L510.0 359.0L506.0 357.0L504.0 351.0L502.0 347.0ZM524.0 353.0L530.0 350.0L530.0 361.0L526.0 361.0ZM504.0 343.0L512.0 341.0L517.0 343.0L515.0 352.0L514.0 360.0L513.0 366.0L510.0 366.0L505.0 362.0L503.0 354.0L505.0 348.0ZM470.0 358.0L480.0 357.0L490.0 360.0L496.0 364.0L503.0 367.0L512.0 370.0L512.0 375.0L500.0 371.0L490.0 366.0L480.0 362.0L470.0 364.0ZM522.0 355.0L526.0 352.5L530.0 353.5L533.5 358.0L532.5 366.0L530.0 369.0L528.5 366.0L526.5 360.0L522.5 358.0ZM474.0 255.0L490.0 255.0L491.0 265.0L494.0 272.0L490.0 273.0L486.0 272.0L482.0 275.0L478.0 272.0L477.0 267.0L474.0 264.0L472.0 259.0ZM490.0 273.0L494.0 272.0L500.0 279.0L504.5 282.5L504.0 285.0L495.0 285.0L492.0 285.0L494.0 281.0Z"/>
<path fill="#ffeb00" d="M477.0 261.0L481.0 260.0L486.0 262.0L486.0 266.0L481.0 266.0L478.0 265.0ZM478.0 280.0L482.0 275.0L486.0 272.0L490.0 273.0L494.0 281.0L492.0 285.0L486.0 288.0L480.0 288.0L477.0 285.0Z"/>
<path fill="#70ad3a" d="M467.0 222.0L472.0 219.5L474.5 222.0L474.0 225.5L470.0 226.5L467.0 225.0ZM463.0 230.0L467.0 229.0L472.0 235.0L474.0 237.5L470.0 237.0L466.0 234.0ZM460.0 242.0L462.0 239.0L464.5 242.0L462.5 245.5ZM463.0 274.0L465.0 269.0L469.0 265.0L474.0 265.0L479.0 269.0L483.0 271.0L484.0 275.0L480.0 279.0L476.0 284.0L474.0 285.0L462.0 285.0L461.5 279.0ZM435.0 335.0L443.0 335.0L446.0 339.0L445.0 344.0L438.0 346.0L435.0 345.0L434.0 339.0ZM457.0 354.0L460.0 351.0L464.0 351.0L466.0 355.0L467.0 361.0L464.0 363.0L460.0 362.0L456.0 361.0L455.0 358.0ZM496.0 345.0L500.0 341.0L505.0 337.0L509.0 335.0L511.0 332.0L508.0 329.0L510.0 327.0L513.0 323.0L516.0 327.0L520.0 329.0L519.0 333.0L514.0 337.0L510.0 341.0L506.0 345.0L506.0 355.0L503.0 353.0L500.0 349.0ZM269.0 349.0L272.0 348.5L276.0 353.0L279.0 356.5L277.0 358.5L273.0 355.0L270.0 352.0ZM262.5 342.0L264.0 341.5L264.5 346.0L263.0 346.5ZM456.0 278.5L462.0 275.0L463.5 281.0L460.0 285.0L453.5 285.0L454.5 282.0Z"/>
<path fill="#70ad3a" d="M484.5 242.5L491.5 242.5L491.5 249.0L484.5 249.0ZM570.0 200.0L574.0 199.0L576.5 202.0L576.0 207.0L573.0 212.0L571.0 218.0L569.0 225.0L565.0 233.0L562.0 230.0L562.0 224.0L564.0 218.0L567.0 211.0L568.5 205.0ZM545.0 246.0L547.0 244.0L550.0 247.0L552.0 252.0L552.5 258.0L550.5 259.5L547.5 256.5L545.5 252.0Z"/>
<path fill="#92d050" d="M436.0 336.5L442.5 336.5L444.5 339.5L443.8 343.0L438.0 344.5L435.8 343.5ZM458.5 355.0L460.5 352.8L463.2 352.8L464.5 355.5L465.2 360.0L463.5 361.2L460.0 360.5L457.2 359.5Z"/>
<path fill="#ffb02a" d="M521.0 187.6L525.0 185.6L528.0 186.0L527.0 189.0L523.0 190.0ZM489.0 210.0L491.0 207.6L495.0 207.0L497.6 210.0ZM454.5 225.0L457.0 223.0L461.0 224.0L461.5 226.5L459.0 228.5L456.0 229.5L454.0 228.0ZM468.0 240.0L472.0 239.0L479.0 240.0L479.0 244.0L476.0 247.0L472.0 250.0L468.0 253.0L465.0 254.0L467.0 250.0L469.0 245.0ZM506.0 237.5L512.0 236.0L518.5 237.5L519.0 242.0L514.0 243.0L509.0 242.0L506.0 240.0ZM493.0 208.0L496.0 208.0L497.0 212.0L495.0 213.0L493.5 211.0ZM457.0 260.0L458.5 260.0L458.5 266.0L457.0 266.0ZM452.0 278.0L454.0 277.0L455.0 282.0L453.0 283.0L451.5 281.0ZM570.0 183.0L570.5 177.0L572.5 172.0L575.5 170.8L582.0 170.3L587.0 168.8L592.0 166.0L596.0 165.0L599.0 167.0L596.5 169.5L594.0 171.5L590.0 173.5L587.8 173.0L587.5 171.2L586.0 170.5L583.5 171.5L582.8 176.2L580.5 179.2L577.0 180.5L573.5 180.0L572.5 183.5L574.0 186.5ZM567.0 189.0L574.0 187.0L580.0 189.5L586.0 189.5L588.5 191.0L589.8 195.0L592.0 195.5L595.0 196.5L595.5 200.0L595.0 204.5L592.5 208.5L591.0 210.0L590.0 206.0L589.0 203.0L586.0 198.0L583.0 197.0L579.0 194.0L575.0 193.0L570.0 195.0L567.0 197.0L565.0 201.0L563.0 206.0L560.0 209.0L555.0 212.0L550.0 216.0L545.0 220.0L541.0 224.0L539.0 228.0L536.0 227.0L532.0 229.0L530.0 231.0L530.0 226.0L533.0 222.0L537.0 219.0L543.0 217.0L549.0 212.5L552.5 208.5L557.0 204.5L561.0 199.0L564.0 193.0ZM575.0 210.0L578.0 209.0L580.0 210.0L582.0 215.0L582.0 220.0L579.0 223.0L575.0 222.0L575.0 215.0ZM568.0 229.0L572.0 227.0L573.0 230.0L571.0 235.0L567.0 235.0ZM564.5 240.5L570.0 242.0L578.0 243.0L584.0 244.0L586.0 248.0L583.0 251.0L578.0 252.0L574.0 254.5L569.0 255.5L563.0 257.5L560.0 256.5L560.5 252.0L562.0 247.0ZM536.0 265.0L539.0 259.0L542.0 260.0L543.0 265.0L542.5 269.5L535.0 269.5ZM539.0 278.0L542.0 274.0L544.0 275.0L542.0 280.0L540.0 284.5L539.0 283.0ZM575.0 274.5L581.0 274.0L584.0 276.0L582.0 279.0L578.0 280.0L575.0 279.0ZM589.0 277.0L593.0 275.0L595.5 276.5L594.0 280.5L590.0 281.5ZM603.0 277.0L610.0 278.0L615.0 275.0L620.0 275.0L621.5 278.0L618.0 280.5L612.0 281.2L606.0 281.2ZM601.5 240.5L604.0 240.0L604.0 245.0L602.0 244.5ZM538.0 235.0L541.0 235.0L540.5 237.0L538.5 237.0ZM440.0 315.0L446.0 314.0L453.0 310.0L460.0 310.0L463.5 313.0L464.5 318.0L463.5 323.5L460.0 325.0L458.0 321.0L457.0 316.0L454.0 315.0L450.0 318.0L446.0 320.0L441.0 320.0ZM444.0 329.5L451.0 328.0L452.0 330.5L450.0 332.0L444.5 331.5ZM452.0 337.0L458.0 333.0L465.0 330.0L470.0 329.5L471.0 332.0L468.0 334.0L464.0 336.0L460.0 337.0L455.0 338.5ZM465.0 339.0L468.0 337.0L472.0 341.0L476.0 344.0L479.0 349.0L476.0 354.0L473.0 353.0L474.0 349.0L472.0 345.0L468.0 342.0ZM442.5 300.0L445.0 299.0L445.5 302.0L443.5 302.5ZM472.0 302.0L473.5 301.5L474.0 305.0L472.5 305.0ZM215.0 319.0L217.0 318.0L219.5 319.5L219.5 322.5L217.5 324.0L215.5 322.5ZM228.0 326.5L230.5 326.0L231.0 328.0L229.0 329.0ZM269.0 337.0L272.0 337.5L274.0 342.0L273.0 344.5L270.0 344.0L269.0 340.0ZM282.0 345.5L284.5 345.0L285.0 350.0L284.0 353.5L282.5 352.0ZM267.0 356.0L269.0 356.5L270.0 358.5L267.5 358.0ZM245.0 428.0L247.6 428.0L247.6 434.0L245.0 434.0ZM254.4 425.0L259.0 425.0L259.0 428.0L255.0 428.0ZM247.0 518.0L250.0 517.0L251.0 521.0L248.0 521.6ZM252.4 522.4L257.0 522.4L254.4 525.0ZM395.0 472.0L399.0 471.0L399.6 477.0L396.0 479.0ZM512.0 532.0L514.4 530.4L515.0 533.6Z"/>
<path fill="#f7f769" d="M450.0 320.0L454.0 318.0L456.0 322.0L453.0 325.0L450.0 324.0Z"/>
<path fill="#ff8c00" d="M460.0 334.0L465.0 331.5L470.0 330.0L470.0 332.0L466.0 334.0L462.0 335.5Z"/>
<path fill="#70ad3a" d="M529.5 229.0L533.0 233.0L534.5 240.0L535.0 250.0L532.5 259.0L529.5 268.0Z"/>
<path fill="#92d050" d="M478.5 221.0L480.0 220.0L481.2 221.5L479.8 222.8ZM464.5 274.5L466.2 270.0L469.5 266.5L473.5 266.5L478.0 270.0L481.5 272.0L482.2 274.8L479.0 278.5L475.0 283.5L473.5 285.0L463.5 285.0L463.0 279.5Z"/>
</g>
<path d="M207.0 687.7L218.6 688.3L230.3 688.7L241.9 689.2L253.5 689.6L265.1 689.9L276.8 690.2L288.4 690.5L300.0 690.6L311.6 690.8L323.3 690.9L334.9 690.9L346.5 690.9L358.2 690.9L369.8 690.8L381.4 690.6L393.0 690.4L404.7 690.1L416.3 689.8L427.9 689.5L439.5 689.1L451.2 688.6L462.8 688.1L474.4 687.6L486.1 687.0L497.7 686.3L509.3 685.6L520.9 684.8L532.6 684.0L544.2 683.2L555.8 682.3L567.4 681.3L579.1 680.3L590.7 679.3L602.3 678.2L613.9 677.0L625.6 675.8L637.2 674.6L648.8 673.3L660.5 671.9L672.1 670.5L683.7 669.1L695.3 667.6L707.0 666.0L718.6 664.4L730.2 662.8L741.8 661.1L753.5 659.3L765.1 657.5L776.7 655.7L788.4 653.8L800.0 651.8L811.6 649.8L823.2 647.8L834.9 645.7L846.5 643.5L858.1 641.3L869.7 639.1L881.4 636.8L893.0 634.4M207.0 598.9L218.6 599.5L230.3 600.0L241.9 600.5L253.5 600.9L265.1 601.3L276.8 601.6L288.4 601.9L300.0 602.1L311.6 602.2L323.3 602.3L334.9 602.4L346.5 602.4L358.2 602.4L369.8 602.3L381.4 602.1L393.0 601.9L404.7 601.7L416.3 601.4L427.9 601.0L439.5 600.6L451.2 600.1L462.8 599.6L474.4 599.1L486.1 598.5L497.7 597.8L509.3 597.1L520.9 596.3L532.6 595.5L544.2 594.6L555.8 593.7L567.4 592.7L579.1 591.7L590.7 590.6L602.3 589.4L613.9 588.3L625.6 587.0L637.2 585.7L648.8 584.4L660.5 583.0L672.1 581.6L683.7 580.1L695.3 578.5L707.0 576.9L718.6 575.3L730.2 573.5L741.8 571.8L753.5 570.0L765.1 568.1L776.7 566.2L788.4 564.2L800.0 562.2L811.6 560.2L823.2 558.0L834.9 555.9L846.5 553.6L858.1 551.4L869.7 549.0L881.4 546.7L893.0 544.2M207.0 509.5L218.6 510.1L230.3 510.7L241.9 511.2L253.5 511.7L265.1 512.1L276.8 512.4L288.4 512.7L300.0 513.0L311.6 513.2L323.3 513.3L334.9 513.4L346.5 513.4L358.2 513.3L369.8 513.2L381.4 513.1L393.0 512.9L404.7 512.6L416.3 512.3L427.9 511.9L439.5 511.4L451.2 510.9L462.8 510.4L474.4 509.8L486.1 509.1L497.7 508.4L509.3 507.6L520.9 506.8L532.6 505.9L544.2 504.9L555.8 503.9L567.4 502.9L579.1 501.8L590.7 500.6L602.3 499.3L613.9 498.1L625.6 496.7L637.2 495.3L648.8 493.9L660.5 492.3L672.1 490.8L683.7 489.1L695.3 487.4L707.0 485.7L718.6 483.9L730.2 482.1L741.8 480.1L753.5 478.2L765.1 476.1L776.7 474.1L788.4 471.9L800.0 469.7L811.6 467.5L823.2 465.2L834.9 462.8L846.5 460.4L858.1 457.9L869.7 455.4L881.4 452.8L893.0 450.1M207.0 420.3L218.6 421.0L230.3 421.6L241.9 422.1L253.5 422.6L265.1 423.0L276.8 423.4L288.4 423.7L300.0 424.0L311.6 424.1L323.3 424.3L334.9 424.3L346.5 424.4L358.2 424.3L369.8 424.2L381.4 424.0L393.0 423.8L404.7 423.5L416.3 423.2L427.9 422.8L439.5 422.3L451.2 421.8L462.8 421.2L474.4 420.6L486.1 419.9L497.7 419.2L509.3 418.4L520.9 417.5L532.6 416.6L544.2 415.6L555.8 414.5L567.4 413.4L579.1 412.2L590.7 411.0L602.3 409.7L613.9 408.4L625.6 407.0L637.2 405.5L648.8 404.0L660.5 402.4L672.1 400.8L683.7 399.1L695.3 397.4L707.0 395.5L718.6 393.7L730.2 391.7L741.8 389.8L753.5 387.7L765.1 385.6L776.7 383.4L788.4 381.2L800.0 378.9L811.6 376.6L823.2 374.2L834.9 371.7L846.5 369.2L858.1 366.6L869.7 364.0L881.4 361.3L893.0 358.5M207.0 331.7L218.6 332.3L230.3 332.9L241.9 333.4L253.5 333.9L265.1 334.3L276.8 334.6L288.4 334.9L300.0 335.1L311.6 335.3L323.3 335.4L334.9 335.4L346.5 335.4L358.2 335.3L369.8 335.2L381.4 335.0L393.0 334.7L404.7 334.4L416.3 334.0L427.9 333.5L439.5 333.0L451.2 332.5L462.8 331.8L474.4 331.1L486.1 330.4L497.7 329.6L509.3 328.7L520.9 327.8L532.6 326.8L544.2 325.8L555.8 324.6L567.4 323.5L579.1 322.2L590.7 321.0L602.3 319.6L613.9 318.2L625.6 316.7L637.2 315.2L648.8 313.6L660.5 312.0L672.1 310.2L683.7 308.5L695.3 306.6L707.0 304.8L718.6 302.8L730.2 300.8L741.8 298.7L753.5 296.6L765.1 294.4L776.7 292.1L788.4 289.8L800.0 287.4L811.6 285.0L823.2 282.5L834.9 280.0L846.5 277.3L858.1 274.7L869.7 271.9L881.4 269.1L893.0 266.3M207.0 243.1L218.6 243.7L230.3 244.3L241.9 244.8L253.5 245.2L265.1 245.6L276.8 245.9L288.4 246.1L300.0 246.3L311.6 246.4L323.3 246.5L334.9 246.5L346.5 246.4L358.2 246.3L369.8 246.2L381.4 245.9L393.0 245.6L404.7 245.3L416.3 244.9L427.9 244.4L439.5 243.9L451.2 243.3L462.8 242.6L474.4 241.9L486.1 241.1L497.7 240.3L509.3 239.4L520.9 238.4L532.6 237.4L544.2 236.3L555.8 235.2L567.4 234.0L579.1 232.7L590.7 231.4L602.3 230.0L613.9 228.6L625.6 227.1L637.2 225.5L648.8 223.9L660.5 222.3L672.1 220.5L683.7 218.7L695.3 216.9L707.0 214.9L718.6 213.0L730.2 210.9L741.8 208.8L753.5 206.7L765.1 204.4L776.7 202.2L788.4 199.8L800.0 197.4L811.6 195.0L823.2 192.4L834.9 189.9L846.5 187.2L858.1 184.5L869.7 181.8L881.4 178.9L893.0 176.1M207.0 153.1L218.6 153.9L230.3 154.6L241.9 155.3L253.5 155.9L265.1 156.4L276.8 156.9L288.4 157.3L300.0 157.6L311.6 157.8L323.3 158.0L334.9 158.1L346.5 158.2L358.2 158.1L369.8 158.0L381.4 157.9L393.0 157.6L404.7 157.3L416.3 156.9L427.9 156.5L439.5 156.0L451.2 155.4L462.8 154.7L474.4 154.0L486.1 153.2L497.7 152.4L509.3 151.4L520.9 150.4L532.6 149.4L544.2 148.2L555.8 147.0L567.4 145.7L579.1 144.4L590.7 143.0L602.3 141.5L613.9 139.9L625.6 138.3L637.2 136.6L648.8 134.8L660.5 133.0L672.1 131.1L683.7 129.1L695.3 127.0L707.0 124.9L718.6 122.7L730.2 120.5L741.8 118.2L753.5 115.8L765.1 113.3L776.7 110.8L788.4 108.2L800.0 105.5L811.6 102.8L823.2 99.9L834.9 97.1L846.5 94.1L858.1 91.1L869.7 88.0L881.4 84.8L893.0 81.6M207.0 64.5L218.6 65.3L230.3 66.0L241.9 66.6L253.5 67.2L265.1 67.7L276.8 68.1L288.4 68.5L300.0 68.8L311.6 69.0L323.3 69.1L334.9 69.2L346.5 69.2L358.2 69.2L369.8 69.0L381.4 68.8L393.0 68.6L404.7 68.2L416.3 67.8L427.9 67.4L439.5 66.8L451.2 66.2L462.8 65.5L474.4 64.8L486.1 64.0L497.7 63.1L509.3 62.1L520.9 61.1L532.6 60.0L544.2 58.9L555.8 57.6L567.4 56.3L579.1 55.0L590.7 53.5L602.3 52.0L613.9 50.5L625.6 48.8L637.2 47.1L648.8 45.3L660.5 43.5L672.1 41.6L683.7 39.6L695.3 37.5L707.0 35.4L718.6 33.2L730.2 30.9L741.8 28.6L753.5 26.2L765.1 23.7L776.7 21.2L788.4 18.6L800.0 15.9L811.6 13.2L823.2 10.4L834.9 7.5L846.5 4.5L858.1 1.5L869.7 -1.6L881.4 -4.7L893.0 -8.0" fill="none" stroke="#000" stroke-width="1" stroke-dasharray="5 4" stroke-dashoffset="-4" shape-rendering="crispEdges"/>
<path d="M253.2 51.0L215.8 749.0M322.5 51.0L313.4 749.0M391.8 51.0L411.2 749.0M460.9 51.0L508.4 749.0M530.8 51.0L605.9 749.0M600.3 51.0L703.5 749.0M669.3 51.0L801.2 749.0M740.0 51.0L893.7 749.0M809.7 51.0L985.6 749.0M878.0 51.0L1083.5 749.0" fill="none" stroke="#000" stroke-width="1" stroke-dasharray="2 7" stroke-dashoffset="-3" shape-rendering="crispEdges"/>
<path d="M216.0 109.4L221.0 110.4L228.0 119.0L235.0 121.0L242.0 121.4L250.0 126.0L258.0 130.4L266.0 133.0L280.0 133.0L285.0 131.6L285.6 138.0L295.0 138.0L297.4 140.0L302.4 135.6L314.0 131.0L328.0 125.0L340.0 120.0L349.0 119.0L357.0 114.4L359.4 116.4L370.0 115.6L384.0 115.0L391.0 116.0L395.0 114.4L406.0 114.0L412.0 109.0L420.0 108.0M448.0 52.0L450.0 57.0L455.0 62.0L462.0 70.0L461.0 75.0L457.0 77.0L450.0 82.0L440.0 86.0L434.0 93.0L428.0 102.0L420.0 106.0M424.0 202.0L429.0 205.0L434.0 204.0L440.0 202.0L445.0 198.0L450.0 200.0L450.0 206.0L457.0 196.0L468.0 195.0L470.0 188.0L475.0 176.0L480.0 175.0L486.0 177.0L492.0 172.0L499.0 170.0L504.0 172.0L509.0 168.0L514.0 167.0L519.0 164.0L519.0 158.0L516.0 154.0L512.0 149.0L514.0 144.0L512.0 138.0L518.0 134.0L520.0 128.0L519.0 124.0L524.0 118.0L529.0 116.0L533.0 115.0L535.0 120.0L536.0 129.0L540.0 132.0L545.0 131.0L550.0 126.0L556.0 121.0L560.0 119.0L563.0 122.0L568.0 116.0L573.0 117.0L580.0 114.0L580.0 109.0L581.0 101.0L586.0 99.0L592.0 97.0L595.0 94.0L600.0 93.6L604.0 98.0L608.0 103.0L610.0 108.0L614.0 110.0L615.0 116.0L618.0 120.0L617.0 124.0L620.0 128.0L626.0 128.0L631.0 127.4L637.0 128.0L640.0 127.0M579.0 144.0L580.0 143.0L582.0 147.0L586.0 149.0L592.0 152.0L598.0 153.0L601.0 152.0L600.0 156.0L597.0 158.0L596.0 162.0L599.0 165.0L606.0 166.0L609.0 169.0L605.0 171.0L599.0 170.0L598.0 176.0L597.0 183.0L592.0 184.0L591.0 187.0L586.0 186.0L580.0 189.0L575.0 189.0L570.0 188.0L567.0 190.0L560.0 189.0L557.0 186.0L556.0 180.0L554.0 176.0L558.0 172.0L563.0 170.0L564.0 165.0L561.0 161.0L564.0 157.0L569.0 155.0L573.0 151.0L575.0 147.0L579.0 144.0M586.0 172.0L597.0 170.0M516.0 154.0L519.0 158.0L524.0 162.0L525.0 169.0L529.0 170.0L528.0 173.0L522.0 175.0L518.0 178.0L521.0 181.0L526.0 183.0L529.0 184.0L532.0 189.0L533.0 194.0L531.0 200.0L527.0 206.0L524.0 210.0M640.0 95.0L644.0 98.0L650.0 99.0L655.0 107.0L658.0 112.0L662.0 107.0L666.0 101.0L670.0 98.0L675.0 94.0L679.0 91.0L683.0 88.0L687.0 85.0L693.0 80.0L698.0 75.0L704.0 71.0L710.0 72.0L716.0 69.0L721.0 66.0L726.0 61.0L731.0 58.0L732.0 51.0M744.0 51.0L748.0 56.0L751.0 61.0L755.0 56.0L757.0 51.0M758.0 51.0L761.0 58.0L765.0 64.0L770.0 71.0L773.0 75.0L778.0 77.0L776.0 83.0L777.0 88.0L781.0 93.0L786.0 99.0L790.0 103.0L792.0 107.0L789.0 109.0L790.0 112.0M790.0 112.0L794.0 110.0L798.0 109.0L802.0 104.0L804.0 97.0L806.0 90.0L807.0 84.0L810.0 80.0L814.0 78.0L818.0 81.0L823.0 84.0L830.0 85.0L837.0 85.0L842.0 83.0L845.0 79.0L843.0 75.0L838.0 73.0L837.0 68.0L840.0 65.0L848.0 62.0L855.0 59.0L859.0 55.0L860.0 52.0M790.0 112.0L788.0 116.0L783.0 121.0L778.0 127.0L773.0 134.0L768.0 142.0L765.0 150.0L760.0 150.0L754.0 152.0L748.0 155.0L742.0 158.0L736.0 162.0L731.0 166.0L726.0 171.0L722.0 176.0L719.0 180.0L714.0 184.0L710.0 188.0L704.0 191.0L699.0 195.0L697.6 190.0L702.0 185.0L708.0 184.0L710.0 180.0L709.0 177.0L706.0 174.4L700.0 175.6L697.6 174.0L701.0 171.0L704.0 168.0L703.0 164.0L701.0 160.0L704.0 156.0L708.0 152.0L710.0 148.0L713.0 143.0L716.0 139.0L714.0 134.0L711.0 131.0L708.0 128.0L704.0 125.0L700.0 128.0L696.0 129.0L692.0 130.0L687.0 131.0L685.0 134.0L682.0 130.0L680.0 126.0L677.0 128.0L673.0 129.0L668.0 131.0L666.0 134.0L669.0 137.0L675.0 137.0L680.0 138.0L678.0 143.0L676.0 149.0L673.0 155.0L668.0 158.0L663.0 161.0L660.0 163.0M640.0 146.0L646.0 148.0L652.0 149.0L654.0 153.0L657.0 158.0L660.0 163.0L655.0 168.0L650.0 176.0L649.0 184.0L644.0 189.0L640.0 191.0M765.0 150.0L772.0 151.0L780.0 152.0L788.0 153.6L796.0 155.0L795.0 162.0L794.0 172.0L793.0 184.0L790.0 194.0L789.0 199.0L796.0 202.0L804.0 206.0L812.0 204.0L818.0 202.0L823.0 200.0L828.0 203.0L834.0 206.0L838.0 210.0M837.0 133.0L842.0 138.0L843.0 149.0L848.0 152.0L854.0 154.0L860.0 156.0M837.0 133.0L844.0 128.0L850.0 124.0L856.0 119.0L860.0 115.0M860.0 115.0L868.0 104.0L874.0 96.0L880.0 89.0L877.0 80.0L873.0 70.0L876.0 62.0L879.0 51.0M860.0 156.0L866.0 160.0L876.0 170.0L885.0 178.0M208.0 222.0L215.0 224.0L221.0 217.0L216.0 213.0L219.0 210.0M274.0 210.0L275.6 215.0L271.0 221.0L267.0 226.0L260.0 230.0L254.0 234.0L257.0 240.0L252.4 244.0L253.0 249.0L260.0 253.0L266.0 258.0L272.0 263.0L280.0 261.6L288.0 260.0L296.0 258.0L306.0 255.0L314.0 253.0L315.6 246.0L316.0 236.0L318.0 226.0L321.0 218.0L324.0 212.0L328.0 210.0M340.0 210.0L344.0 217.0L340.0 224.0L337.0 230.0L333.0 236.0L338.0 240.0L348.0 243.0L355.0 246.0L360.0 250.0L363.0 252.0L370.0 253.0L374.0 257.0L380.0 257.0L388.0 255.0L391.0 250.0L393.0 246.0L398.0 247.0L397.0 241.0L395.0 236.0L400.0 230.0L406.0 225.0L408.0 219.0L415.0 214.0L420.0 211.0M363.0 252.0L356.0 256.0L353.0 263.0L352.0 270.0L354.0 278.0L360.0 280.0L368.0 283.0L376.0 287.0L384.0 290.0L390.0 295.0L389.0 303.0L386.0 310.0L388.0 318.0L389.0 326.0L380.0 328.0L372.0 328.0L364.0 328.0L367.0 332.0L369.0 336.0L360.0 338.0L354.0 337.0L349.0 336.0L342.0 334.0L334.0 334.0L331.0 336.0L332.0 344.0L328.0 348.0L333.0 352.0L337.0 354.0L336.0 360.0L332.0 364.0L330.0 370.0L332.0 376.0L333.0 380.0M317.0 377.0L321.0 375.0L326.0 377.0L330.0 380.0M272.0 263.0L280.0 263.0L287.0 264.0L284.0 268.0L290.0 272.0L296.0 277.0L302.0 282.0L299.0 286.0L304.0 292.0L305.0 301.0L302.0 306.0L304.0 311.0L310.0 315.0L317.0 320.0L322.0 321.0L328.0 328.0L332.0 324.0L332.0 316.0L340.0 314.0L344.0 310.0L344.0 304.0L340.0 300.0L333.0 297.0L332.0 290.0L329.0 289.0L333.0 284.0L333.0 278.0L338.0 273.0L346.0 272.4L352.0 272.4M208.0 256.0L212.0 254.0L216.0 251.0L219.0 258.0L226.0 263.0L231.0 268.0L228.0 274.0L232.0 280.0L235.0 286.0L238.0 292.0L241.0 296.0L237.0 301.0L238.0 308.0L233.0 309.0L231.0 314.0L226.0 319.0L220.0 323.0L222.0 328.0L216.0 332.0L210.0 335.0L208.0 338.0M208.0 342.0L215.0 346.0L217.0 351.0L212.0 354.0L208.0 356.0M221.0 380.0L218.0 370.0L215.0 364.0L221.0 362.0L228.0 356.0L235.0 354.0L239.0 359.0L240.0 365.0L243.0 370.0L252.0 371.0L258.0 373.0L262.0 376.0L266.0 380.0M451.0 210.0L446.0 216.0L445.0 224.0L440.0 232.0L436.0 238.0L437.0 246.0L442.0 253.0L440.0 262.0L436.0 270.0L434.4 278.0L437.0 285.0M516.0 210.0L518.0 216.0L514.0 221.0L511.0 226.0L514.0 232.0L520.0 238.0L524.0 243.0L528.0 250.0L524.0 256.0L522.0 262.0L519.0 270.0L518.0 277.0L514.0 279.0L517.0 284.0L522.0 288.0M608.0 210.0L612.0 214.0L618.0 220.0L620.0 223.0L615.0 227.0L610.0 231.0L607.0 235.0M620.0 223.0L626.0 226.0L632.0 225.0L640.0 224.0M592.0 210.0L600.0 212.0L612.0 213.0M640.0 225.0L644.0 223.0L648.0 224.0L649.0 232.0L649.0 242.0L648.0 246.0L654.0 248.0L660.0 250.0L666.0 249.0L672.0 249.0L675.0 242.0L680.0 235.0L685.0 229.0L691.0 225.0L697.0 223.0L702.0 225.0L708.0 228.0L714.0 231.0L720.0 230.0L726.0 227.0L730.0 226.0L736.0 228.0L741.0 228.0L744.0 227.0L743.0 232.0L742.0 237.0L743.0 241.0L739.0 243.0L735.0 244.0L733.0 241.0L729.0 243.0L724.0 246.0L719.0 249.0L715.0 253.0L710.0 255.0L706.0 257.0L702.0 259.0L705.0 263.0L700.0 265.0L699.0 272.0L695.0 274.0L691.0 278.0L687.0 275.0L691.0 271.0L688.0 276.0L686.0 283.0L683.0 287.0L681.0 291.0L677.0 295.0L675.0 300.0L672.0 304.0L670.0 309.0L668.0 312.0M668.0 312.0L670.0 317.0L675.0 319.0L682.0 323.0L690.0 326.0L700.0 328.0L705.0 336.0L709.0 342.0L712.0 350.0L717.0 358.0L722.0 364.0L725.0 372.0L730.0 377.0L736.0 379.0L740.0 380.0M668.0 312.0L662.0 312.0L659.0 316.0L657.0 322.0L652.0 325.0L650.0 331.0L645.0 333.0L642.0 328.0L640.0 327.0M640.0 353.0L648.0 353.0L647.0 359.0L644.0 364.0L646.0 370.0L651.0 372.0L654.0 380.0M666.0 380.0L668.0 375.0L673.0 373.0L678.0 376.0L681.0 380.0M839.0 210.0L845.0 217.0L831.0 224.0L838.0 232.0L844.0 240.0L849.0 247.0L853.6 253.0L850.0 260.0L846.0 268.0L849.0 278.0L854.0 286.0L860.0 294.0M860.0 294.0L860.6 295.4L867.0 287.0L873.0 281.0L880.0 277.0L885.6 273.6M607.0 235.0L599.0 236.5L596.0 237.0L593.0 241.0L590.0 245.0L587.0 248.0L584.5 245.5L583.5 249.0L580.0 253.0L577.0 254.0L576.5 258.0L574.0 260.0L573.0 265.0L570.0 270.0L567.0 272.5L564.0 275.0L562.0 278.0L562.0 282.0L564.5 285.0L567.5 287.0L567.5 291.0L567.0 294.0L565.5 297.0L566.0 301.0M530.0 289.5L539.0 290.5L541.0 292.0L547.0 293.0L553.0 294.0L556.0 291.0L560.0 289.5L563.0 291.0L565.0 293.0L567.0 292.0M566.0 301.0L568.0 298.0L572.0 296.0L577.0 294.0L582.0 291.0L584.0 289.5L584.5 291.5L582.0 294.0L578.0 297.0L574.0 301.0L570.0 303.0L568.0 306.0L565.0 309.0L562.0 312.0L559.0 315.0L557.0 320.0M436.5 285.0L437.0 291.0L436.5 298.0L438.0 304.0L440.0 309.0L441.5 314.0L440.0 319.0L438.0 323.0L435.5 327.0L435.0 333.0L433.5 334.0L433.5 342.0L435.0 345.0L437.0 346.0L438.0 351.0L441.0 355.0L444.0 359.0L443.5 363.0L446.0 367.0L449.0 370.0M430.5 333.5L433.5 333.7M435.0 345.5L440.0 345.5L445.0 344.5L450.0 342.5L455.0 339.5L460.0 338.0L465.0 337.0L469.0 336.0L470.0 333.0L474.0 329.5L480.0 328.5L480.5 323.0L485.0 324.0L490.0 323.5L496.0 323.0L499.0 324.0L504.0 321.0L509.0 318.0L514.0 315.0L518.0 313.5L520.0 309.0L520.5 303.0L521.0 295.0L522.0 288.0L530.0 288.5M518.0 285.0L520.0 286.5L522.0 288.0M443.0 364.0L445.0 367.0L449.0 370.0L452.0 374.0L455.0 375.0L455.5 380.0L454.5 383.0L456.0 386.0M456.0 386.0L454.0 386.0L450.0 387.0L448.0 389.5L445.0 387.0L442.5 385.0L440.0 387.0L435.0 388.5L432.0 386.5L426.0 387.0L420.0 386.5M456.0 386.0L458.0 387.0L461.0 390.0L463.0 392.0L464.0 395.0L467.0 398.0L469.0 400.0L472.0 403.0L474.5 401.5L478.0 403.0L482.0 405.0L486.0 407.0L490.0 409.0L494.0 409.0L500.0 408.0L505.0 408.5L509.0 406.5L512.0 405.5L516.0 406.0L519.0 405.5L522.0 407.0L525.0 409.0L528.0 406.5L530.0 406.0M420.0 391.5L422.5 391.5L422.5 395.5L426.0 396.5L430.0 396.5L433.0 400.0L434.0 403.5L431.0 406.0L426.0 406.0L420.0 405.5M554.5 320.0L553.5 324.5L557.0 325.5L562.0 324.5L564.5 327.0L568.0 330.0L571.0 333.0L574.0 336.0L580.0 335.5L586.0 334.0L589.0 333.5L592.0 336.0L594.0 334.0L596.5 331.0L595.5 328.0L597.0 325.0L602.0 323.0L606.5 321.5L608.0 320.0M606.5 321.5L610.0 323.0L613.0 326.0L616.0 330.0L619.0 333.5L623.0 330.0L626.0 332.5L630.0 333.0L633.0 329.5L636.0 326.5L640.0 325.5M596.5 331.0L600.0 334.0L604.0 335.5L609.0 337.0L613.0 338.5L615.0 342.0L618.0 346.0L624.0 346.5L629.0 345.5L632.0 347.0L635.0 350.0L636.5 354.0L640.0 354.5M592.0 336.0L594.0 339.5L598.0 341.5L602.0 342.0L603.5 345.0L603.0 348.0L606.0 350.0L606.5 353.0L604.0 354.0L600.5 355.5L598.0 358.5L595.5 360.5L593.0 360.0L590.0 356.0L587.0 352.0L583.0 350.5L579.5 351.5L578.0 355.5L579.0 360.0L580.0 365.5L575.0 366.5L572.5 369.0L574.0 374.0L572.5 379.0L569.5 381.0L566.0 381.5L562.5 380.0L562.5 386.0L566.0 386.5L570.0 387.0L571.0 390.0L571.5 394.0L575.0 396.0L579.0 398.0L582.5 400.5L586.0 398.0L590.0 396.0L591.0 394.5L592.0 400.0L593.0 405.0M640.0 94.5L636.1 100.3L638.1 106.1L639.6 113.4L642.5 120.6L641.5 126.5L640.0 128.6M219.0 210.0L222.5 210.0L231.3 206.3L237.5 210.0L245.0 213.8L251.3 208.8L258.8 205.0L266.3 203.0L272.5 203.8L274.0 210.0M324.0 212.0L328.8 208.8L336.3 205.8L340.0 206.3L341.0 210.0L344.0 217.0M420.0 211.0L420.0 208.8L423.8 206.3L424.0 202.0M450.0 203.8L451.0 210.0M269.0 380.0L275.0 384.0L272.0 390.0L270.0 398.0L276.0 403.0L284.0 406.0L294.0 406.0L301.0 403.0L302.0 397.0L309.0 398.0L315.0 395.0L317.0 389.0L314.0 384.0L313.0 380.0M309.0 398.0L320.0 401.0L330.0 406.0L340.0 404.0L348.0 404.0L352.0 410.0L360.0 410.0L366.0 414.0L372.0 418.0L380.0 417.0L386.0 416.0L392.0 420.0L400.0 423.0L408.0 427.0L412.0 431.0L418.0 431.0L420.0 430.0M386.0 416.0L387.0 420.0L383.0 426.0L388.0 432.0L384.0 438.0L379.0 444.0L376.0 449.0L374.0 456.0L366.0 459.0L360.0 462.0L359.0 466.0L354.0 474.0L348.0 481.0L344.0 483.0L338.0 482.0L334.0 476.0L328.0 476.0L323.0 478.0L316.0 474.0L312.0 471.0L308.0 475.0L304.0 479.0L309.0 484.0L308.0 489.0L302.0 492.0L297.0 497.0L299.0 502.0L304.0 504.0L308.0 508.0L310.0 513.0L316.0 516.0L320.0 520.0L325.0 524.0L328.0 528.0L331.0 520.0L336.0 523.0L338.0 529.0L343.0 524.0L348.0 518.0L354.0 516.0L358.0 512.0L360.0 508.0L366.0 507.0L370.0 511.0L376.0 512.0L382.0 511.0L385.0 516.0L386.0 522.0L391.0 527.0L395.0 532.0L399.0 535.0L402.0 538.0L406.0 534.0L410.0 524.0L412.0 516.0L411.0 508.0L406.0 504.0L402.0 500.0L400.0 496.0L394.0 492.0L388.0 490.0L386.0 488.0L389.0 484.0L390.0 476.0L387.0 471.0M420.0 385.0L415.0 387.0L413.0 389.0L419.0 390.0M420.0 406.0L417.0 410.0L416.0 418.0L418.0 426.0L418.0 431.0M387.0 471.0L392.0 466.0L400.0 464.0L410.0 462.0L415.0 464.0L420.0 466.0M420.0 494.0L416.0 500.0L413.0 508.0L412.0 516.0L414.0 528.0L415.0 540.0L418.0 550.0M241.0 540.0L243.0 536.0L248.0 534.0L253.0 530.0L252.0 524.0L258.0 522.0L266.0 522.0L269.0 524.0L267.0 531.0L270.0 536.0L269.0 542.0L274.0 546.0L280.0 545.0L286.0 541.0L290.0 540.0L294.0 544.0L296.0 550.0M239.0 550.0L241.0 546.0L241.0 540.0M328.0 528.0L324.0 524.0L316.0 520.0L311.0 524.0L306.0 528.0L305.0 534.0L310.0 538.0L318.0 538.0L323.0 542.0L326.0 550.0M208.0 385.0L214.0 383.0L216.0 380.0M530.0 406.0L532.0 404.0L534.0 410.0L535.0 417.0L539.0 422.0L544.0 423.0L550.0 421.0L557.0 423.0L558.0 427.0L564.0 429.0L569.0 430.0L575.0 427.0L580.0 430.0M580.0 430.0L582.0 425.0L587.0 420.0L594.0 417.0L593.0 408.0L592.6 405.0M580.0 430.0L584.0 434.0L590.0 437.0L596.0 440.0L601.0 441.0L598.0 446.0L595.0 450.0L598.0 456.0L600.0 462.0L604.0 466.0L607.0 473.0L608.0 476.0M608.0 476.0L602.0 478.0L596.0 476.0L590.0 478.0L586.0 482.0L580.0 484.0L574.0 489.0L568.0 492.0L560.0 495.0L552.0 498.0L547.0 502.0M608.0 476.0L614.0 474.0L620.0 468.0L626.0 466.0L628.0 469.0L624.0 474.0L623.0 478.0L628.0 480.0L632.0 476.0L636.0 470.0L640.0 469.0M420.0 494.0L426.0 491.0L434.0 489.0L442.0 490.0L447.0 488.0L446.0 482.0L450.0 479.0L456.0 477.6L464.0 479.0L472.0 482.0L480.0 483.0L488.0 484.0L492.0 488.0L499.0 492.0L504.0 490.0L510.0 488.0L514.0 484.0L518.0 485.0L517.0 491.0L522.0 492.0L527.0 488.0L531.0 484.0L534.4 481.0L536.0 486.0L540.0 490.0L539.6 496.0L540.0 500.0L547.0 502.0M547.0 502.0L550.0 508.0L554.0 512.0L556.0 518.0L558.0 522.0L554.0 528.0L552.0 534.0L547.0 538.0L544.0 544.0L542.0 550.0M420.0 432.0L425.0 435.0L431.0 438.0L435.0 443.0L434.0 449.0L435.0 455.0L432.0 458.0L426.0 457.0L420.0 462.0M655.0 380.0L660.0 381.0L664.0 384.0L666.0 388.0L665.0 394.0L661.0 399.0L662.0 405.0L667.0 409.0L674.0 412.0L677.0 416.0L676.0 420.0L673.0 422.0L676.0 424.0L684.0 422.0L690.0 421.0L693.0 423.0L700.0 423.0L706.0 422.0L710.0 425.0L716.0 426.0L720.0 425.0L723.0 428.0L726.0 430.0L730.0 425.0L734.0 421.0L737.0 419.0L739.0 412.0L740.0 406.0L744.0 404.0L739.0 401.0L734.0 398.0L737.0 395.0L744.0 394.0L747.0 397.0L752.0 399.0L755.0 402.0L758.0 405.0M737.0 397.0L742.0 395.0L748.0 398.0L754.0 401.0L758.0 403.0L752.0 403.0L746.0 401.0L740.0 400.0L737.0 397.0M739.0 380.0L741.0 385.0L746.0 388.0L752.0 390.0L756.0 394.0L757.0 398.0L755.0 402.0M734.0 420.0L740.0 425.0L745.0 428.0L752.0 425.0L762.0 421.0L760.0 415.0L756.0 408.0L752.0 405.0L746.0 404.0M745.0 428.0L741.0 433.0L738.0 440.0L731.0 441.0L726.0 442.0L730.0 447.0L736.0 448.0L740.0 444.0L744.0 441.0L749.0 440.0L754.0 442.0L758.0 445.0L762.0 448.0L767.0 448.0L770.0 454.0L768.0 460.0L762.0 463.0L758.0 464.0L764.0 468.0L768.0 472.0L763.0 474.0L766.0 480.0L765.0 486.0L768.0 491.0L770.0 496.0L766.0 500.0L760.0 501.0L756.0 504.0L758.0 510.0L755.0 514.0L751.0 512.0L749.0 518.0L746.0 524.0L745.0 530.0L741.0 533.0L736.0 534.0L740.0 538.0L738.0 542.0L734.0 546.0L732.0 550.0M726.0 442.0L722.0 444.0M772.0 454.0L774.0 459.0L770.0 462.0L768.0 466.0L772.0 468.0L776.0 470.0L773.0 474.0L768.0 475.0M760.0 461.0L764.0 459.0L768.0 456.0L771.0 457.0M700.0 423.0L699.0 430.0L700.0 435.0L694.0 438.0L692.0 441.0L697.0 445.0L690.0 449.0L685.0 450.0L683.0 456.0L684.0 462.0L681.0 467.0L679.0 472.0L674.0 476.0L668.0 479.0L665.0 478.0M640.0 469.0L645.0 474.0L652.0 477.0L660.0 476.0L665.0 478.0L667.0 483.0L664.0 488.0L666.0 493.0L671.0 496.0L675.0 500.0L678.0 506.0L680.0 512.0L687.0 511.0L690.0 516.0L691.0 522.0L694.0 528.0L697.0 534.0L704.0 532.0L709.0 533.0L712.0 528.0L716.0 526.0L719.0 530.0L722.0 535.0L728.0 533.0L734.0 531.0L738.0 530.0M680.0 512.0L674.0 516.0L668.0 520.0L662.0 524.0L660.0 528.0L654.0 525.0L649.0 528.0L644.0 534.0L641.0 538.0L643.0 544.0L646.0 550.0M722.0 535.0L718.0 539.0L714.0 541.0L715.0 546.0L720.0 550.0M728.0 533.0L724.0 540.0L726.0 546.0L727.0 550.0M736.0 534.0L740.0 535.0L743.0 532.0L744.0 536.0L740.0 538.0M238.0 550.0L230.0 555.0L224.0 558.0L222.0 564.0L223.0 572.0L226.0 580.0L225.0 587.0L219.0 589.0L214.0 593.0L212.0 590.0L208.0 590.0M254.0 559.0L248.0 562.0L244.0 568.0L247.0 575.0L248.0 581.0L251.0 585.0L258.0 582.0L268.0 581.0L272.0 586.0L275.0 590.0L272.0 596.0L269.0 602.0L266.0 607.0L264.0 612.0L269.0 616.0L273.0 621.0L278.0 624.0L276.0 629.0L272.0 634.0L269.0 638.0L268.0 643.0L271.0 648.0L274.0 650.0M254.0 559.0L260.0 561.0L264.0 559.0L270.0 558.0L276.0 562.0L282.0 563.0L288.0 560.0L293.0 559.0L294.0 554.0L298.0 550.0M304.0 550.0L308.0 552.0L316.0 551.0L323.0 550.0M269.0 638.0L275.0 642.0L280.0 639.0L286.0 635.0L290.0 632.0L296.0 634.0L300.0 638.0L306.0 639.0L311.0 640.0L316.0 642.0L320.0 638.0L319.0 634.0L324.0 632.0L332.0 628.0L340.0 625.0L345.0 623.0L347.0 617.0L352.0 614.0L356.0 618.0L360.0 623.0L363.0 625.0L366.0 623.0L370.0 627.0L376.0 626.0L380.0 624.0L383.0 619.0L387.0 616.0L392.0 619.0L395.0 621.0L400.0 614.0L406.0 612.0L410.0 608.0L415.0 607.0L420.0 604.0M274.0 650.0L275.0 648.0L284.0 648.0L289.0 650.0L290.0 656.0L295.0 659.0L301.0 658.0L306.0 660.0L312.0 658.0L316.0 659.0L319.0 663.0L320.0 668.0L318.0 674.0L316.0 678.0L313.0 683.0L313.0 689.0L316.0 691.0L322.0 692.0L328.0 694.0L332.0 693.0L338.0 696.0L339.0 699.0L336.0 702.0L333.0 708.0L336.0 712.0L337.0 720.0M316.0 678.0L311.0 676.0L306.0 677.0L302.0 681.0L298.0 684.0L293.0 680.0L288.0 683.0L283.0 685.0L278.0 686.0L277.0 690.0L272.0 693.0L266.0 696.0L261.0 699.0L254.0 698.0L250.0 705.0L245.0 700.0L240.0 696.0L236.0 699.0L232.0 695.0L227.0 699.0L220.0 705.0L214.0 701.0L208.0 698.0M420.0 556.0L410.0 563.0L400.0 570.0L409.0 569.0L418.0 568.0L416.0 576.0L419.0 582.0L415.6 590.0L420.0 595.0M420.0 568.0L422.0 570.0L421.0 576.0L420.0 578.0M420.0 592.0L422.0 599.0L427.0 601.0L429.0 604.0L431.0 600.0L434.0 596.0L439.0 597.0L440.0 599.0L445.0 600.0L450.0 595.0L454.0 591.0L460.0 590.0L466.0 588.0L471.0 590.0L475.0 592.0L476.0 597.0L474.0 600.0L478.0 602.0L482.0 603.0L480.0 607.0L478.0 614.0L473.0 619.0L469.0 623.0L468.0 629.0L471.0 630.0L474.0 626.0L480.0 625.0L483.0 628.0L484.0 636.0L488.0 638.0L494.0 635.0L500.0 634.0L505.0 628.0L506.0 621.0L512.0 621.0L518.0 622.0L522.0 627.0L529.0 628.0L530.0 622.0L527.0 617.0L529.0 614.0L534.0 610.0L538.0 610.0L543.0 613.0L549.0 614.0L556.0 612.0L558.0 609.0M541.0 550.0L545.0 553.0L550.0 553.0L548.0 560.0L552.0 567.0L553.0 574.0L559.0 576.0L558.0 583.0L557.0 588.0L563.0 587.0L560.0 593.0L557.0 601.0L558.0 609.0L560.0 614.0L566.0 614.0L572.0 611.0L576.0 609.0L581.0 612.0L582.0 616.0L578.0 621.0L574.0 624.0L572.0 629.0L568.0 633.0L575.0 637.0L580.0 634.0L586.0 632.0L592.0 630.0L598.0 628.0L604.0 626.0L609.0 627.0L613.0 630.0L617.0 631.0L617.0 624.0L618.0 619.0L617.0 613.0L620.0 608.0L621.0 601.0L624.0 594.0L628.0 588.0L632.0 582.0L630.0 578.0L633.0 572.0L631.0 566.0L632.0 559.0L637.0 556.0L640.0 555.0M618.0 619.0L624.0 621.0L630.0 622.0L635.0 620.0L638.0 624.0L640.0 627.0M500.0 634.0L501.0 641.0L502.0 646.0L499.0 652.0L497.0 658.0L492.0 663.0L490.0 668.0L486.0 671.0L484.0 678.0L485.0 686.0L483.0 692.0L476.0 696.0L470.0 700.0L465.0 704.0L465.0 709.0L460.0 712.0L454.0 714.0L453.0 720.0M507.0 720.0L512.0 719.0L518.0 718.0L519.0 713.0L522.0 717.0L528.0 719.0L532.0 716.0L536.0 718.0L540.0 710.0L542.0 716.0L547.0 712.0L552.0 708.0L555.0 704.0L554.4 691.0L560.0 690.0L563.0 694.0L568.0 697.0L564.0 702.0L564.0 707.0L585.0 706.0L584.0 698.0L583.0 694.0L580.0 693.0L586.0 690.0L590.0 686.0L594.0 688.0L596.0 692.0L592.0 693.0L591.0 688.0L600.0 686.0L606.0 683.0L612.0 686.0L617.0 685.0L622.0 683.0L628.0 682.0L634.0 680.0L638.0 676.0L640.0 675.0M551.0 708.0L554.0 710.0L552.0 712.0L550.0 710.0L551.0 708.0M559.0 712.0L562.0 713.0L561.0 715.0L559.0 714.0L559.0 712.0M787.0 587.4L798.0 590.0L800.6 606.0L798.0 622.0L795.6 638.0L794.0 654.0L789.0 662.0L785.6 670.0L785.0 680.0L783.6 686.6L777.0 677.0L772.0 674.0L764.0 671.0L759.0 662.0L755.0 652.0L753.6 642.0L756.0 634.0L760.0 626.0L764.0 616.0L769.0 606.0L773.6 598.0L780.0 592.0L787.0 587.4M720.0 551.0L724.0 553.0L728.0 551.0L732.0 553.0L737.0 551.0L738.0 555.0L734.0 558.0L731.0 556.0L729.0 560.0L733.0 562.0L730.0 565.0L726.0 563.0L725.0 559.0L728.0 556.0L726.0 550.0M729.0 556.0L725.0 562.0L728.0 567.0L724.0 572.0L726.0 578.0L725.0 583.0L729.0 586.0L735.0 585.0L733.0 590.0L729.0 593.0L727.0 598.0L723.0 599.0L719.0 595.0L715.0 592.0L710.0 593.0L708.0 598.0L712.0 602.0L708.0 607.0L704.0 609.0L700.0 606.0L701.0 600.0L698.0 600.0L698.0 610.0L702.0 614.0L704.0 619.0L700.0 622.0L696.0 619.0L693.0 623.0L691.0 627.0L687.0 628.0L683.0 627.0L678.0 627.0L685.0 630.0L688.0 632.0L683.0 632.0L677.0 631.0L672.0 632.0L668.0 635.0L669.0 640.0L672.0 644.0L670.0 649.0L665.0 652.0L661.0 654.0L662.0 659.0L658.0 661.0L654.0 659.0L656.0 656.0L660.0 654.0L655.0 658.0L652.0 662.0L650.0 668.0L645.0 670.0L643.0 676.0L640.0 677.0M709.0 593.0L713.0 591.0L717.0 593.0L720.0 597.0L717.0 600.0L713.0 599.0L710.0 596.0L709.0 593.0M711.0 600.0L715.0 601.0L714.0 605.0L710.0 604.0L711.0 600.0M724.0 586.0L728.0 584.0L732.0 587.0L730.0 590.0L726.0 589.0L724.0 586.0M640.0 625.0L647.0 625.0L649.0 630.0L652.0 634.0L654.0 640.0L655.0 646.0L658.0 651.0L660.0 654.0M337.0 720.0L340.0 722.0L346.0 723.0L349.0 727.0L354.0 729.0L360.0 732.0L368.0 733.0L374.0 731.0L379.0 734.0L386.0 732.0L392.0 729.0L395.0 723.0L400.0 726.0L406.0 727.0L410.0 730.0L415.0 732.0L417.0 736.0L413.0 737.0L420.0 735.0M379.0 734.0L352.0 749.0M386.0 733.0L390.0 730.0L389.0 727.0L393.0 725.0L397.0 722.0L399.0 727.0L403.0 725.0L407.0 729.0L404.0 730.0L400.0 729.0L396.0 731.0L392.0 732.0M453.0 720.0L454.0 720.0L447.0 722.0L440.0 725.0L439.0 733.0L441.0 737.0L435.0 738.0L434.0 744.0L433.0 749.0M420.0 735.0L425.0 731.0L427.0 726.0L429.0 727.0L430.0 731.0L434.0 733.0L437.0 735.0L440.0 736.4M426.0 728.0L429.0 725.0L431.0 729.0L428.0 730.0M448.0 745.0L453.0 743.0L457.0 740.0L456.0 735.0L460.0 739.0L466.0 737.0L473.0 734.0L476.0 732.0L482.0 732.4L487.0 731.0L490.0 729.0L496.0 728.0L499.0 724.0L504.0 726.0L507.0 720.0M448.0 745.0L451.0 747.0L455.0 744.0L458.0 746.0L461.0 749.0M450.0 749.0L452.0 746.0L455.0 748.0L456.0 744.0M497.0 725.0L500.0 722.0L502.0 727.0L505.0 725.0L504.0 729.0L500.0 728.0M776.5 441.0L777.0 439.5L779.0 438.5L781.0 440.0L779.5 442.0L777.5 443.0L776.5 441.0M777.5 448.0L779.0 447.5L779.0 449.0L777.5 450.0L777.5 448.0M776.0 445.0L777.0 443.0L779.5 444.0L780.5 446.5L778.0 448.5L776.0 447.0L776.0 445.0M767.5 445.0L769.5 448.5L766.5 448.0L767.5 445.0M781.0 447.0L780.5 445.5L781.0 443.5L782.5 444.5L783.0 446.0L781.0 447.0M772.5 447.5L775.0 447.0L776.5 449.5L775.0 451.5L773.0 450.5L771.0 449.5L772.5 447.5M780.5 443.0L779.5 443.5L779.0 443.5L778.5 442.5L779.5 442.0L780.0 442.0L780.5 443.0M773.0 451.5L774.0 450.5L775.5 450.5L775.5 451.5L775.0 452.5L773.5 453.0L773.0 451.5M776.0 451.5L776.0 447.5L780.5 449.0L779.0 452.5L776.0 451.5M773.0 446.0L772.5 444.5L773.5 443.0L775.0 443.5L775.0 445.0L774.5 446.0L773.0 446.0M770.0 446.5L769.0 447.0L768.0 447.0L768.5 446.0L769.5 445.5L770.0 446.5M769.5 442.5L769.0 439.5L772.0 438.5L772.0 442.0L769.5 442.5M769.0 449.0L769.5 447.0L772.0 447.5L772.5 450.5L770.0 450.5L769.0 449.0M770.5 448.5L771.0 449.0L770.5 450.0L769.5 450.5L769.0 449.0L769.0 448.0L770.5 448.5M777.0 447.0L776.0 446.5L775.5 445.5L776.5 445.0L778.0 445.0L777.5 446.0L777.0 447.0M780.5 441.0L780.5 442.0L779.5 442.5L779.5 441.5L780.0 440.5L780.5 441.0M780.5 448.0L778.5 448.0L778.0 446.5L779.0 445.5L780.0 445.5L780.5 446.5L780.5 448.0M766.5 448.5L769.0 446.0L771.5 448.0L769.5 449.5L766.5 448.5M777.0 445.0L774.0 443.5L776.5 441.5L777.0 445.0M769.5 442.0L769.0 445.0L766.0 443.5L769.5 442.0M778.5 445.5L776.0 446.5L775.0 444.0L778.0 442.0L778.5 445.5M768.5 444.0L768.0 441.0L770.5 438.5L773.5 441.5L772.0 445.5L768.5 444.0M775.5 438.5L775.0 439.0L774.0 438.5L774.0 437.5L775.0 437.0L775.5 437.5L775.5 438.5M773.0 446.0L772.0 447.5L771.0 445.5L773.0 446.0M770.0 447.5L770.5 446.0L771.5 447.5L770.0 447.5M757.5 462.5L758.5 462.5L760.5 462.5L759.5 464.0L758.0 464.5L756.5 464.0L757.5 462.5M759.0 463.5L760.5 462.5L762.5 464.0L761.5 466.5L759.0 467.0L757.5 465.0L759.0 463.5M764.0 458.0L762.5 459.0L760.5 457.0L762.0 455.0L764.5 454.5L765.0 457.0L764.0 458.0M765.0 459.5L764.5 457.5L766.5 457.5L765.0 459.5M772.5 453.5L772.0 458.0L769.0 456.0L772.5 453.5M766.5 454.0L768.0 453.5L768.5 453.5L769.0 454.5L768.5 456.0L767.0 455.5L766.5 454.0M775.0 473.5L774.0 475.5L771.0 474.5L772.0 471.0L774.5 471.5L775.0 473.5M762.5 469.0L762.0 470.5L761.5 471.0L760.0 470.5L760.0 469.0L761.5 468.5L762.5 469.0M772.5 466.0L771.5 468.0L769.5 467.0L768.5 464.5L771.5 463.5L772.5 466.0M771.5 472.5L773.0 472.5L772.0 473.5L771.5 472.5M767.5 470.0L772.0 471.0L768.5 474.0L767.5 470.0M765.5 472.0L761.5 472.0L761.5 468.5L765.0 468.0L765.5 472.0M764.0 469.0L760.0 466.5L765.0 465.0L764.0 469.0M770.5 471.0L771.0 469.5L773.0 470.0L773.0 471.5L772.5 473.0L770.5 473.0L770.5 471.0M761.5 469.5L762.0 469.0L762.5 468.5L763.5 469.0L763.0 470.0L762.5 470.0L761.5 469.5M760.5 472.5L761.5 471.5L763.0 471.5L763.5 472.5L763.5 474.0L762.0 473.5L760.5 472.5M769.0 469.0L766.0 472.0L763.0 471.5L762.5 468.0L765.5 466.5L769.0 469.0M767.5 470.5L770.0 470.5L770.5 472.5L769.0 475.0L766.5 473.0L767.5 470.5M772.0 466.0L774.5 466.0L774.0 468.5L772.5 470.0L769.5 469.5L770.5 467.0L772.0 466.0M765.0 476.5L765.0 477.5L763.5 477.0L765.0 476.5M768.0 478.5L765.5 481.0L762.5 479.0L762.5 476.0L765.0 475.5L767.5 475.5L768.0 478.5M755.0 511.0L754.5 509.5L755.0 509.0L755.5 509.5L755.0 511.0M758.0 506.5L757.0 506.5L756.5 506.5L756.0 505.5L757.0 504.5L758.0 505.5L758.0 506.5M754.5 501.0L755.0 501.0L755.5 501.5L755.5 502.5L754.5 502.5L754.0 502.0L754.5 501.0M759.5 507.5L761.5 506.5L760.5 508.5L759.5 507.5M759.5 507.5L756.5 506.5L758.5 504.0L761.0 502.0L762.0 504.5L762.5 507.5L759.5 507.5M758.0 516.0L757.0 513.5L760.0 512.0L761.5 515.0L758.0 516.0M757.5 503.5L757.0 503.0L758.0 502.5L759.0 503.0L758.5 504.0L757.5 503.5M755.5 505.5L754.0 504.0L755.5 503.5L755.5 505.5M760.0 502.5L760.5 503.5L759.5 504.5L758.5 503.5L758.5 503.0L759.0 501.5L760.0 502.5M756.5 512.0L752.5 511.0L752.5 508.5L754.5 506.0L756.5 508.5L756.5 512.0M776.7 422.7L778.1 422.7L778.1 423.7L776.7 422.7M781.7 417.8L783.1 417.8L783.1 418.8L781.7 417.8M787.3 420.6L788.7 420.6L788.7 421.6L787.3 420.6M773.3 425.5L774.7 425.5L774.7 426.5L773.3 425.5M767.3 427.6L768.7 427.6L768.7 428.6L767.3 427.6M787.3 437.0L788.7 437.0L788.7 438.0L787.3 437.0M772.8 483.0L774.2 483.0L774.2 484.0L772.8 483.0M775.3 490.0L776.7 490.0L776.7 491.0L775.3 490.0M767.3 503.0L768.7 503.0L768.7 504.0L767.3 503.0M757.3 520.0L758.7 520.0L758.7 521.0L757.3 520.0M758.3 527.0L759.7 527.0L759.7 528.0L758.3 527.0M728.0 560.0L727.5 558.5L728.5 558.0L729.0 559.0L728.0 560.0M736.5 554.5L735.5 555.5L735.0 554.0L736.0 554.0L736.5 554.5M735.5 554.5L733.0 555.0L732.5 552.5L734.0 552.0L736.0 552.5L735.5 554.5M735.0 552.0L737.0 553.0L735.5 555.0L734.0 553.5L735.0 552.0M731.5 551.5L734.0 549.5L736.5 551.5L734.5 555.0L731.5 551.5M720.5 556.0L718.5 554.5L721.0 553.5L720.5 556.0M731.0 561.5L728.5 559.5L729.0 556.5L732.0 557.0L733.0 558.0L733.0 560.0L731.0 561.5M728.0 556.0L728.0 560.0L725.0 558.0L728.0 556.0M729.5 551.0L730.0 552.0L730.0 553.0L729.0 553.5L728.5 552.5L728.0 551.5L729.5 551.0M724.0 553.0L722.5 553.5L721.5 552.0L723.5 551.0L724.0 553.0M726.0 555.0L726.0 555.5L725.5 556.0L725.0 555.5L725.0 554.5L725.5 554.5L726.0 555.0M725.5 556.5L726.5 554.0L729.0 555.5L728.5 558.0L726.0 558.5L725.5 556.5M731.0 559.0L732.0 558.5L732.5 560.0L731.0 560.0L731.0 559.0M730.0 557.5L729.5 554.0L734.0 555.0L730.0 557.5M729.5 551.5L729.0 549.5L731.5 548.5L731.5 551.0L729.5 551.5M711.5 594.5L712.5 594.0L713.5 594.5L714.0 596.0L712.5 596.5L711.5 596.0L711.5 594.5M719.0 606.0L716.0 608.0L714.0 606.5L715.5 603.5L719.0 606.0M713.0 594.0L715.5 590.0L716.5 594.0L713.0 594.0M715.0 602.0L709.0 600.5L713.5 596.0L715.0 602.0M707.0 595.5L712.0 595.5L708.0 600.5L707.0 595.5M712.5 593.5L712.0 594.5L711.0 594.0L711.0 593.5L711.5 593.0L712.5 593.0L712.5 593.5M714.0 599.5L713.0 602.0L711.5 600.5L714.0 599.5M716.0 592.0L717.5 592.0L718.0 593.0L718.0 594.0L716.5 594.5L716.0 593.0L716.0 592.0M715.5 605.5L713.5 606.5L710.5 605.5L711.5 603.5L713.0 602.0L715.5 603.0L715.5 605.5M717.5 601.0L718.5 601.5L718.5 602.5L718.0 603.5L716.0 603.5L716.5 602.0L717.5 601.0M710.5 602.0L709.5 601.0L710.5 600.5L711.5 599.5L712.0 601.0L711.5 602.5L710.5 602.0M715.0 599.0L716.5 600.0L715.0 602.0L713.0 601.0L713.5 599.0L715.0 599.0M715.0 594.0L716.0 593.5L716.0 595.0L715.0 594.0M713.0 591.0L713.5 594.5L710.5 596.0L710.0 593.0L713.0 591.0M716.5 603.5L718.0 602.5L718.0 604.0L716.5 603.5M716.5 591.5L715.0 593.0L713.5 595.0L711.5 593.5L711.5 590.5L714.0 591.0L716.5 591.5M719.0 593.5L718.5 596.0L716.5 595.5L715.5 594.5L716.5 592.0L719.0 593.5M716.5 592.0L713.5 593.5L711.5 593.0L709.5 591.0L711.5 588.5L714.5 589.5L716.5 592.0M732.0 584.5L730.0 582.5L731.5 580.5L732.5 582.0L732.0 584.5M728.5 582.5L729.0 581.5L730.5 582.5L729.0 583.5L728.5 582.5M726.5 591.0L727.0 591.0L727.0 592.5L726.0 591.5L726.5 591.0M733.0 591.5L734.0 591.0L734.5 591.0L735.0 592.0L734.5 592.5L733.5 592.5L733.0 591.5M731.0 592.0L732.0 593.5L731.0 594.5L730.0 593.0L731.0 592.0M728.5 596.5L728.0 595.0L729.5 594.0L730.0 595.0L730.0 596.5L728.5 596.5M730.0 589.0L728.0 587.0L729.0 585.0L730.5 584.0L733.0 585.0L731.5 587.0L730.0 589.0M736.5 596.0L733.5 597.0L731.5 595.5L733.0 593.5L735.5 593.0L736.5 596.0M735.5 593.5L734.0 593.5L733.0 592.0L734.5 591.0L736.0 592.0L735.5 593.5M726.0 590.5L724.5 590.0L726.0 589.0L726.0 590.5M731.5 591.0L729.5 592.5L727.0 593.5L726.5 590.5L729.0 589.5L731.5 591.0M726.5 592.5L726.5 591.5L727.5 591.5L728.0 592.5L727.5 593.0L726.5 592.5M736.5 589.5L732.0 588.5L732.5 584.0L737.0 585.0L736.5 589.5M730.0 584.5L726.0 584.0L727.5 579.5L730.0 584.5M733.0 587.0L731.0 584.0L733.5 582.5L735.5 584.5L733.0 587.0M734.5 585.0L733.5 586.5L732.0 586.5L731.5 585.5L732.0 584.0L733.5 584.0L734.5 585.0M696.5 608.5L697.5 608.5L698.0 609.0L698.0 609.5L697.5 610.5L696.5 609.5L696.5 608.5M706.0 607.0L706.0 608.0L704.5 607.5L706.0 607.0M698.5 615.0L701.0 614.0L703.0 615.5L702.5 619.5L698.5 618.5L698.5 615.0M702.5 618.5L697.5 621.5L697.0 616.0L702.5 618.5M698.5 613.0L700.5 612.0L702.5 612.5L702.0 614.5L700.0 614.0L698.5 613.0M703.0 607.0L701.5 608.0L701.0 606.0L703.0 607.0M706.0 612.5L705.0 613.0L705.0 612.0L705.5 611.5L706.0 612.0L706.0 612.5M702.5 609.0L701.5 610.0L701.0 608.5L701.5 608.0L702.5 609.0M704.5 610.0L702.5 607.5L703.0 605.0L705.0 602.5L706.5 605.5L706.5 607.5L704.5 610.0M702.0 615.5L705.0 617.0L704.0 620.0L700.5 619.0L702.0 615.5M699.5 606.0L700.5 607.0L699.0 607.5L698.5 606.5L699.5 606.0M699.5 605.5L700.0 606.5L699.5 607.5L698.5 607.5L698.5 606.5L698.0 605.5L699.5 605.5M701.0 610.5L700.0 610.5L700.5 609.5L701.5 610.0L702.0 610.5L701.0 610.5M696.5 613.0L696.5 612.0L697.5 611.5L698.0 612.5L698.0 613.0L697.0 614.0L696.5 613.0M703.0 604.5L702.5 603.0L703.5 603.0L703.0 604.5M697.0 616.0L695.5 615.0L696.0 613.5L697.0 613.5L698.0 614.5L697.0 616.0M701.0 608.0L700.5 611.0L698.0 612.0L696.5 609.5L698.5 607.0L701.0 608.0M700.5 611.0L701.5 611.0L702.5 612.5L700.5 612.5L700.5 611.0M702.0 618.0L700.0 613.5L704.0 614.0L702.0 618.0M693.0 625.0L693.0 624.0L694.0 624.0L693.5 624.5L693.0 625.0M694.5 624.5L696.5 623.5L697.5 625.0L697.5 626.5L696.0 627.0L695.0 626.0L694.5 624.5M695.5 626.0L693.5 627.0L693.0 624.5L693.5 623.5L695.5 624.0L695.5 626.0M691.5 621.0L693.0 622.0L692.0 622.5L691.5 621.0M696.5 624.5L697.5 626.0L696.0 627.5L694.5 626.5L694.5 625.0L696.5 624.5M680.0 629.5L680.0 629.0L680.0 628.5L681.0 628.5L680.5 629.5L680.0 629.5M686.0 626.5L684.5 627.5L683.0 626.5L684.5 625.5L686.0 626.5M680.0 628.5L681.0 626.5L682.5 629.0L680.0 628.5M684.0 631.0L686.5 628.5L689.0 632.0L686.5 634.5L683.0 634.0L684.0 631.0M676.5 631.5L674.0 630.0L676.0 627.5L678.0 626.5L679.0 628.5L679.0 631.0L676.5 631.5M687.5 630.5L687.0 629.5L687.5 629.0L688.0 629.5L688.5 630.5L687.5 630.5M686.0 631.5L684.5 631.0L683.0 629.5L684.5 627.0L686.5 628.5L687.0 630.0L686.0 631.5M663.5 653.5L667.0 653.0L667.0 657.5L663.5 656.0L663.5 653.5M664.0 658.5L662.5 657.5L664.0 656.5L664.0 658.5M665.0 656.0L664.5 654.5L666.0 654.5L666.5 655.5L666.5 656.5L665.5 657.0L665.0 656.0M664.0 652.5L664.0 653.5L663.0 654.0L662.5 653.5L663.0 652.5L664.0 652.5M666.5 660.0L663.5 663.0L661.0 660.0L663.0 656.5L666.5 660.0M662.5 654.0L663.5 653.0L665.0 654.0L664.5 655.5L663.5 655.0L662.5 654.0M657.0 658.0L659.5 657.0L660.5 660.0L658.0 660.0L657.0 658.0M662.5 663.5L658.0 661.0L663.0 660.0L662.5 663.5M659.0 650.0L661.5 651.0L660.5 653.5L658.5 654.0L657.5 652.0L659.0 650.0M660.5 654.5L658.5 656.5L656.5 654.5L657.0 651.5L660.0 652.0L660.5 654.5M665.0 651.5L667.5 653.0L666.0 655.5L663.0 656.5L662.5 653.0L665.0 651.5M659.0 656.0L659.5 660.5L655.0 657.5L659.0 656.0M723.0 573.0L721.0 572.0L721.5 569.0L724.5 569.0L726.0 572.0L723.0 573.0M725.0 574.5L726.0 574.0L726.5 574.5L726.5 575.5L725.5 575.0L725.0 574.5M720.0 573.0L723.5 572.0L726.5 573.5L725.5 577.5L722.0 575.5L720.0 573.0M725.5 572.0L722.5 572.0L720.5 570.5L722.5 568.5L724.5 569.0L725.5 572.0M723.0 569.5L723.5 572.0L721.5 573.0L720.5 571.0L721.0 569.5L723.0 569.5M726.0 572.0L725.0 574.0L723.0 574.0L721.0 572.0L724.0 571.0L726.0 572.0M556.0 704.5L557.0 705.0L556.5 706.0L556.0 707.0L554.5 706.5L555.0 705.0L556.0 704.5M553.5 707.0L551.5 708.0L550.5 706.0L552.5 705.5L553.5 707.0M553.0 709.0L552.5 711.0L551.0 710.5L549.5 709.0L551.0 708.0L552.5 707.5L553.0 709.0M559.0 708.0L560.5 708.0L561.5 709.0L560.5 710.5L558.5 709.5L559.0 708.0M556.0 708.5L559.0 706.5L561.5 708.5L559.0 711.0L556.0 708.5M549.0 707.0L550.5 704.0L553.5 704.0L556.5 706.0L554.0 708.0L551.5 709.5L549.0 707.0M560.5 706.0L559.5 707.0L558.5 706.0L558.5 705.0L560.0 704.0L560.5 706.0M554.5 708.0L555.0 706.0L557.0 705.0L557.5 707.5L557.5 709.0L555.5 710.0L554.5 708.0M560.0 711.0L560.5 712.5L559.0 713.5L558.5 711.5L560.0 711.0M559.5 714.5L558.5 711.0L561.5 711.0L563.0 712.5L562.5 715.5L559.5 714.5M557.5 712.5L559.0 711.5L560.0 713.0L558.5 714.5L557.5 713.5L557.5 712.5M525.5 722.0L525.0 724.0L523.0 723.5L522.5 721.5L524.0 720.0L525.5 720.5L525.5 722.0M517.5 720.0L518.5 718.5L520.0 720.0L519.0 720.5L517.5 720.0M508.5 722.0L513.0 721.5L511.0 725.0L508.5 722.0M512.5 724.5L509.5 721.5L513.5 719.5L515.5 722.5L512.5 724.5M524.5 724.0L523.0 722.5L525.0 722.0L524.5 724.0M524.0 723.5L525.0 723.5L525.0 724.5L524.0 724.5L524.0 723.5M512.0 723.5L513.5 723.0L514.5 723.5L513.5 725.0L512.0 723.5M522.5 725.5L520.0 726.0L518.0 723.5L522.0 722.0L522.5 725.5M517.0 718.5L517.5 717.5L518.5 718.5L517.5 719.5L517.0 718.5M524.0 720.5L522.0 719.0L524.5 718.0L524.0 720.5M525.0 721.5L524.0 720.0L524.0 719.0L525.5 719.0L526.0 720.5L525.0 721.5M515.0 721.5L515.0 723.0L513.5 724.0L513.0 722.5L513.5 721.5L515.0 721.5M524.0 722.0L522.5 721.0L523.5 719.5L525.0 719.5L525.0 721.0L524.0 722.0M543.5 718.5L543.5 720.5L541.0 721.5L539.0 720.0L540.5 718.5L541.5 717.5L543.5 718.5M536.5 719.0L537.0 717.0L538.0 718.0L536.5 719.0M541.0 717.0L541.0 718.0L539.5 718.0L538.5 717.5L539.0 716.0L540.5 716.0L541.0 717.0M536.5 717.5L537.5 717.0L538.0 718.0L537.5 719.0L536.5 719.0L536.5 718.5L536.5 717.5M544.0 712.5L543.5 713.0L543.0 713.5L542.5 713.0L542.0 712.5L543.0 712.0L544.0 712.5M539.0 713.0L539.0 714.0L538.5 714.5L537.0 714.0L537.5 713.0L538.5 712.5L539.0 713.0M543.5 713.0L543.0 716.0L539.5 715.0L541.0 712.0L543.5 713.0M539.5 714.0L538.5 715.0L538.0 713.0L539.0 712.5L540.0 713.0L539.5 714.0M586.0 694.0L583.5 693.5L583.0 691.0L585.0 689.0L587.0 691.0L587.0 692.5L586.0 694.0M583.0 693.0L587.0 691.5L585.5 695.5L583.0 693.0M581.5 691.5L582.0 689.0L584.5 691.0L581.5 691.5M587.0 688.5L588.5 690.0L586.0 691.0L587.0 688.5M581.5 692.5L582.0 691.5L583.0 692.5L583.0 693.0L582.5 694.0L581.5 693.5L581.5 692.5M452.0 741.5L453.0 743.5L451.0 745.0L450.0 742.5L452.0 741.5M457.5 745.0L457.5 743.0L459.0 744.0L459.5 745.5L457.5 745.0M449.5 739.0L451.0 739.0L450.0 740.0L449.5 739.0M455.5 739.5L454.5 740.5L454.0 739.5L454.0 738.0L455.5 738.0L455.5 739.5M458.5 742.5L459.0 743.0L458.5 744.0L458.0 743.5L458.0 743.0L458.5 742.5M455.0 735.5L457.0 733.5L458.5 735.5L458.0 738.5L455.0 738.0L455.0 735.5M449.5 739.5L453.0 738.0L453.0 741.5L449.5 739.5M456.5 737.5L460.5 736.5L458.5 740.0L456.5 737.5M455.5 747.0L453.5 745.5L455.5 745.0L455.5 747.0M456.0 739.0L455.5 738.0L456.5 738.0L457.0 737.5L457.5 738.0L457.0 739.0L456.0 739.0M459.5 738.5L459.0 740.5L457.0 740.0L458.0 738.5L459.5 738.5M453.5 746.0L454.5 748.5L453.5 751.0L451.0 749.0L451.5 747.0L453.5 746.0M452.0 749.0L453.0 747.0L454.5 748.0L454.0 749.5L452.0 749.0M453.5 738.5L456.0 737.5L456.0 740.0L454.0 741.0L453.5 738.5M429.0 732.0L428.5 730.5L429.5 729.0L431.0 730.0L431.0 731.5L429.0 732.0M422.5 729.5L426.5 731.0L423.5 733.0L422.5 729.5M433.0 728.5L433.0 727.0L435.0 726.5L436.0 728.5L434.0 730.0L433.0 728.5M432.5 730.5L431.0 729.5L431.5 728.0L433.0 729.0L432.5 730.5M424.5 730.5L423.5 730.5L423.5 729.5L424.0 729.0L425.0 729.0L425.0 730.0L424.5 730.5M423.0 728.0L424.0 728.5L424.5 729.5L423.5 729.5L423.0 729.0L423.0 728.0M428.5 734.0L428.5 734.5L427.5 735.0L426.0 734.5L427.0 733.5L428.0 733.5L428.5 734.0M427.0 732.5L427.0 731.0L428.0 730.0L429.0 731.0L429.5 732.0L428.0 732.5L427.0 732.5M433.0 727.5L430.0 727.0L429.5 723.0L433.5 724.0L433.0 727.5M429.5 726.0L431.5 728.5L430.0 730.5L428.5 731.0L427.0 730.0L426.5 727.5L429.5 726.0M426.5 733.0L428.0 734.0L427.5 735.5L425.5 735.0L426.5 733.0M439.5 727.0L438.5 730.0L436.0 730.0L433.5 727.5L436.5 725.0L439.5 727.0M433.0 736.5L430.5 736.0L431.0 734.0L432.5 733.0L434.0 734.5L433.0 736.5M421.5 731.0L425.0 731.0L424.0 734.0L421.5 731.0M431.0 728.5L429.0 729.0L427.5 727.5L428.5 726.0L430.0 725.0L431.5 726.5L431.0 728.5M396.0 731.0L397.5 729.0L399.5 731.0L397.0 732.0L396.0 731.0M390.0 724.5L392.0 728.5L388.0 727.5L390.0 724.5M401.0 726.5L401.0 729.0L398.5 730.5L395.5 729.0L397.0 726.0L399.5 725.5L401.0 726.5M397.5 730.5L395.0 729.5L395.5 727.5L397.5 728.5L397.5 730.5M394.5 722.0L394.5 724.0L392.5 724.5L391.0 724.0L390.5 722.0L392.5 721.5L394.5 722.0M394.5 729.5L394.5 727.5L396.5 727.5L397.0 729.0L396.5 730.0L395.0 731.0L394.5 729.5M389.0 730.0L388.5 728.5L389.5 727.5L391.0 728.0L390.0 729.5L389.0 730.0M408.5 727.5L408.5 728.5L407.5 728.5L407.0 728.0L407.0 727.0L408.0 727.0L408.5 727.5M390.5 728.0L390.0 727.5L390.5 727.0L391.0 727.0L391.5 727.5L391.0 728.5L390.5 728.0M404.0 723.5L404.5 724.5L403.5 725.0L403.0 724.0L404.0 723.5M407.5 728.5L407.0 727.0L407.5 725.0L409.5 725.5L410.0 727.5L409.0 728.5L407.5 728.5M395.0 730.5L392.0 725.5L396.5 725.0L395.0 730.5M394.0 730.5L394.5 726.5L398.0 728.0L398.0 731.5L394.0 730.5M398.5 724.0L399.5 725.0L399.0 725.5L398.5 725.5L398.0 725.0L398.5 724.0M396.5 723.5L397.5 725.0L395.5 725.0L396.5 723.5M408.5 724.5L409.0 725.5L408.0 726.0L407.5 725.0L408.5 724.5M391.0 728.0L391.5 729.5L390.5 730.5L389.5 729.0L391.0 728.0M396.5 723.5L394.5 725.0L394.5 722.0L396.5 723.5M391.5 727.5L391.5 725.0L393.5 724.5L393.5 726.5L391.5 727.5M476.5 727.5L477.5 728.0L479.0 728.5L478.0 730.0L476.0 730.5L476.0 729.0L476.5 727.5M480.5 734.0L480.0 733.0L480.0 732.0L481.5 731.5L482.0 733.0L480.5 734.0M470.5 732.5L470.0 729.5L473.0 729.5L474.0 731.0L476.0 734.0L472.5 734.5L470.5 732.5M481.0 732.0L482.5 732.0L482.5 733.0L481.5 733.0L481.0 732.0M477.0 729.0L476.5 730.0L475.5 729.5L475.5 729.0L476.0 728.5L477.0 729.0M477.5 732.5L476.5 732.0L477.0 731.0L477.5 730.5L478.5 731.5L477.5 732.5M476.0 728.5L475.0 728.5L475.0 727.5L475.5 726.5L476.5 727.0L476.5 728.0L476.0 728.5M479.0 730.5L476.5 727.0L479.5 726.5L479.0 730.5M503.5 725.0L500.0 722.5L504.5 721.5L503.5 725.0M506.5 722.5L506.0 725.0L505.0 723.5L506.5 722.5M499.0 723.0L498.0 723.5L497.0 722.0L499.0 722.0L499.0 723.0M499.5 718.0L502.0 720.5L500.5 723.0L498.0 723.0L497.5 721.0L499.5 718.0M500.5 722.5L501.5 724.0L499.5 724.0L499.0 722.5L500.5 722.5M510.0 718.5L508.0 722.5L503.5 722.5L505.0 718.0L510.0 718.5M710.0 175.0L707.5 174.0L705.5 173.0L706.5 171.0L709.0 170.0L710.0 172.0L710.0 175.0M697.5 172.5L698.5 173.0L698.0 174.0L697.0 173.5L697.0 173.0L697.5 172.5M695.5 169.5L697.0 170.5L697.5 172.5L695.5 173.5L694.5 172.0L694.5 170.5L695.5 169.5M700.0 174.5L701.5 174.0L701.0 175.5L700.0 174.5M703.0 172.0L703.5 173.5L702.0 174.0L701.5 172.5L703.0 172.0M695.0 170.5L698.0 170.0L699.5 171.0L699.0 173.0L696.0 174.0L695.0 170.5M698.0 171.5L696.0 172.0L697.0 170.5L698.0 171.5M706.0 178.5L702.5 178.5L702.0 176.5L704.0 175.0L706.0 178.5M701.5 172.0L700.5 173.0L699.5 172.0L699.5 170.5L701.0 170.0L701.5 172.0M697.5 173.5L698.0 177.5L694.0 176.0L697.5 173.5M698.5 168.5L700.5 175.0L695.5 173.0L698.5 168.5M707.0 176.0L707.0 175.0L708.5 174.5L708.0 176.0L707.0 176.0M790.0 110.5L789.5 111.5L788.5 111.0L788.5 110.5L789.0 110.0L790.0 110.5M790.0 110.5L789.5 108.0L792.0 108.0L793.0 111.0L790.0 110.5M622.0 223.0L623.0 223.5L623.5 225.0L622.0 226.0L621.5 224.5L622.0 223.0M624.5 223.0L625.0 222.5L626.0 222.5L625.5 223.5L624.5 223.0M633.5 226.0L632.0 224.5L634.0 223.5L635.5 224.5L635.0 226.5L633.5 226.0M638.0 224.0L638.0 224.5L637.0 225.5L636.5 224.5L636.0 223.0L637.5 223.5L638.0 224.0M743.5 232.5L742.5 233.0L742.0 232.0L743.0 231.5L744.0 232.0L743.5 232.5M740.0 238.5L739.5 235.5L741.5 234.0L742.0 237.0L740.0 238.5M743.0 233.5L740.5 233.0L740.5 230.5L742.5 228.5L744.5 230.0L746.0 232.5L743.0 233.5M739.5 230.5L743.0 232.0L741.0 234.5L738.5 233.5L739.5 230.5M742.0 229.0L742.5 229.5L742.5 230.5L741.5 230.0L741.0 229.5L741.5 228.5L742.0 229.0M705.5 257.0L705.5 258.0L704.5 258.5L704.0 258.0L704.0 257.0L704.5 256.5L705.5 257.0M707.0 257.0L705.0 257.0L705.5 255.0L707.0 254.5L708.5 255.5L708.0 257.0L707.0 257.0M709.0 255.0L711.5 258.5L706.5 259.5L706.5 255.5L709.0 255.0M703.5 256.0L703.0 256.5L702.5 255.5L702.5 255.0L703.5 255.0L704.0 255.5L703.5 256.0M703.5 255.5L702.5 256.5L702.5 255.5L703.5 255.5M690.5 278.0L689.0 278.5L687.5 278.0L688.5 276.5L689.5 277.0L690.5 278.0M690.0 272.5L687.5 274.0L688.0 270.5L690.0 272.5M692.0 272.5L690.5 275.5L688.0 273.5L687.0 271.5L687.5 268.5L691.0 269.5L692.0 272.5M694.0 270.5L692.5 274.0L690.0 272.0L694.0 270.5M691.5 274.5L691.5 273.0L693.0 272.5L693.5 273.5L694.0 275.0L692.5 275.5L691.5 274.5" fill="none" stroke="#000" stroke-width="1" stroke-linejoin="round" shape-rendering="crispEdges"/>
<g fill="none" stroke="#8205fa" stroke-width="2"><circle cx="459.0" cy="159.4" r="5"/><circle cx="578.0" cy="176.4" r="5"/><circle cx="600.0" cy="197.0" r="5"/><circle cx="734.0" cy="95.0" r="5"/><circle cx="326.4" cy="232.4" r="5"/><circle cx="259.0" cy="303.4" r="5"/><circle cx="398.0" cy="356.0" r="5"/><circle cx="487.0" cy="245.0" r="5"/><circle cx="537.0" cy="237.0" r="5"/><circle cx="605.2" cy="270.8" r="5"/><circle cx="523.5" cy="335.0" r="5"/><circle cx="261.4" cy="462.0" r="5"/><circle cx="331.6" cy="496.6" r="5"/><circle cx="631.0" cy="410.4" r="5"/><circle cx="553.6" cy="458.6" r="5"/><circle cx="604.0" cy="508.6" r="5"/><circle cx="522.0" cy="529.6" r="5"/><circle cx="671.6" cy="400.0" r="5"/><circle cx="748.4" cy="411.6" r="5"/><circle cx="718.6" cy="446.4" r="5"/><circle cx="336.6" cy="585.0" r="5"/><circle cx="213.6" cy="627.0" r="5"/><circle cx="387.6" cy="694.8" r="5"/><circle cx="542.0" cy="678.4" r="5"/><circle cx="714.6" cy="572.6" r="5"/></g>
</g>
<rect x="207" y="50" width="686" height="700" fill="none" stroke="#000" stroke-width="2" shape-rendering="crispEdges"/>
<path d="M197 64.5H206M197 153.5H206M197 242.5H206M197 331.5H206M197 420.5H206M197 509.5H206M197 598.5H206M197 687.5H206M215.5 751V760M313.5 751V760M411.5 751V760M508.5 751V760M605.5 751V760M703.5 751V760M801.5 751V760M892.5 751V760" stroke="#000" stroke-width="1" fill="none" shape-rendering="crispEdges"/>
<g fill="#ff2a2a" font-size="21px">
<text transform="translate(193 72.0) scale(1.06 1)" text-anchor="end">44°N</text>
<text transform="translate(193 161.0) scale(1.06 1)" text-anchor="end">41°N</text>
<text transform="translate(193 250.0) scale(1.06 1)" text-anchor="end">38°N</text>
<text transform="translate(193 339.0) scale(1.06 1)" text-anchor="end">35°N</text>
<text transform="translate(193 428.0) scale(1.06 1)" text-anchor="end">32°N</text>
<text transform="translate(193 517.0) scale(1.06 1)" text-anchor="end">29°N</text>
<text transform="translate(193 606.0) scale(1.06 1)" text-anchor="end">26°N</text>
<text transform="translate(193 695.0) scale(1.06 1)" text-anchor="end">23°N</text>
<text transform="translate(196.5 783.5) scale(1.11 1)">103°E</text>
<text transform="translate(294.5 783.5) scale(1.11 1)">106°E</text>
<text transform="translate(392.5 783.5) scale(1.11 1)">109°E</text>
<text transform="translate(489.5 783.5) scale(1.11 1)">112°E</text>
<text transform="translate(586.5 783.5) scale(1.11 1)">115°E</text>
<text transform="translate(684.5 783.5) scale(1.11 1)">118°E</text>
<text transform="translate(782.5 783.5) scale(1.11 1)">121°E</text>
<text transform="translate(873.5 783.5) scale(1.11 1)">124°E</text>
</g>
<rect x="956.5" y="127.50" width="40" height="49.67" fill="#92d050" stroke="#000" stroke-width="1" shape-rendering="crispEdges"/>
<rect x="956.5" y="177.17" width="40" height="49.67" fill="#70ad3a" stroke="#000" stroke-width="1" shape-rendering="crispEdges"/>
<rect x="956.5" y="226.83" width="40" height="49.67" fill="#f7f769" stroke="#000" stroke-width="1" shape-rendering="crispEdges"/>
<rect x="956.5" y="276.50" width="40" height="49.67" fill="#ffeb00" stroke="#000" stroke-width="1" shape-rendering="crispEdges"/>
<rect x="956.5" y="326.17" width="40" height="49.67" fill="#ffb02a" stroke="#000" stroke-width="1" shape-rendering="crispEdges"/>
<rect x="956.5" y="375.83" width="40" height="49.67" fill="#ff8c00" stroke="#000" stroke-width="1" shape-rendering="crispEdges"/>
<rect x="956.5" y="425.50" width="40" height="49.67" fill="#f52d5a" stroke="#000" stroke-width="1" shape-rendering="crispEdges"/>
<rect x="956.5" y="475.17" width="40" height="49.67" fill="#ff0000" stroke="#000" stroke-width="1" shape-rendering="crispEdges"/>
<rect x="956.5" y="524.83" width="40" height="49.67" fill="#c8147d" stroke="#000" stroke-width="1" shape-rendering="crispEdges"/>
<rect x="956.5" y="574.50" width="40" height="49.67" fill="#aa325a" stroke="#000" stroke-width="1" shape-rendering="crispEdges"/>
<rect x="956.5" y="624.17" width="40" height="49.67" fill="#9a32cd" stroke="#000" stroke-width="1" shape-rendering="crispEdges"/>
<rect x="956.5" y="673.83" width="40" height="49.67" fill="#8a2be2" stroke="#000" stroke-width="1" shape-rendering="crispEdges"/>
<g fill="#000" font-size="23px">
<text transform="translate(1001.5 185.2) scale(1.25 1)">10</text>
<text transform="translate(1001.5 234.8) scale(1.25 1)">8</text>
<text transform="translate(1001.5 284.5) scale(1.25 1)">6</text>
<text transform="translate(1001.5 334.2) scale(1.25 1)">4</text>
<text transform="translate(1001.5 383.8) scale(1.25 1)">2</text>
<text transform="translate(1001.5 433.5) scale(1.25 1)">1</text>
<text transform="translate(1001.5 483.2) scale(1.25 1)">0.8</text>
<text transform="translate(1001.5 532.8) scale(1.25 1)">0.6</text>
<text transform="translate(1001.5 582.5) scale(1.25 1)">0.4</text>
<text transform="translate(1001.5 632.2) scale(1.25 1)">0.2</text>
<text transform="translate(1001.5 681.8) scale(1.25 1)">0.1</text>
<text x="950" y="108" textLength="32" lengthAdjust="spacingAndGlyphs">km</text><text x="940.5" y="108" font-size="27px">(</text><text x="984" y="108" font-size="27px">)</text>
</g>
<g fill="#000" font-size="23px">
<text class="cjk" x="229.3" y="34">年</text>
<text class="cjk" x="279" y="34">月</text>
<text class="cjk" x="333.5" y="34">日</text>
<text class="cjk" x="481" y="34" textLength="48" lengthAdjust="spacingAndGlyphs">模式</text>
<text class="cjk" x="596" y="34" textLength="95" lengthAdjust="spacingAndGlyphs">预报产品</text>
<text class="cjk" x="729" y="34">月</text>
<text class="cjk" x="784" y="34">日</text>
<text class="cjk" x="834.5" y="34">时</text>
</g>
<g fill="#000">
<text class="cjk" x="357" y="810" font-size="20px" textLength="79" lengthAdjust="spacingAndGlyphs">版权所有</text>
<text class="cjk" x="456" y="810" font-size="20px" textLength="76" lengthAdjust="spacingAndGlyphs">南京大学</text>
<text class="cjk" x="546" y="810" font-size="21px" textLength="210" lengthAdjust="spacingAndGlyphs">南京创蓝科技有限公司</text>
</g>
<g fill="#000" font-size="23px">
<text x="171.5" y="34" textLength="52.8" lengthAdjust="spacingAndGlyphs">2025</text>
<text x="251.2" y="34" textLength="26.4" lengthAdjust="spacingAndGlyphs">10</text>
<text x="306.2" y="34" textLength="26.4" lengthAdjust="spacingAndGlyphs">17</text>
<text x="358.2" y="34" textLength="38.2" lengthAdjust="spacingAndGlyphs">WRF</text>
<text x="402" y="34" textLength="12.0" lengthAdjust="spacingAndGlyphs">/</text>
<text x="418" y="34" textLength="60.0" lengthAdjust="spacingAndGlyphs">cmaq</text>
<text x="531.2" y="34" textLength="26.4" lengthAdjust="spacingAndGlyphs">12</text>
<text x="559" y="34" textLength="36.5" lengthAdjust="spacingAndGlyphs">km</text>
<text x="692" y="34">:</text>
<text x="698.8" y="34" textLength="26.4" lengthAdjust="spacingAndGlyphs">10</text>
<text x="755.6" y="34" textLength="26.4" lengthAdjust="spacingAndGlyphs">17</text>
<text x="805.6" y="34" textLength="27.0" lengthAdjust="spacingAndGlyphs">23</text>
</g>
<text x="871" y="34" font-size="23px" fill="#ff2a2a" textLength="38.5" lengthAdjust="spacingAndGlyphs">VIS</text>
<text x="440.5" y="811" font-size="21px" fill="#000">:</text>
<path d="M534.5 788V818" stroke="#000" stroke-width="1" shape-rendering="crispEdges"/>
</svg></body></html>
